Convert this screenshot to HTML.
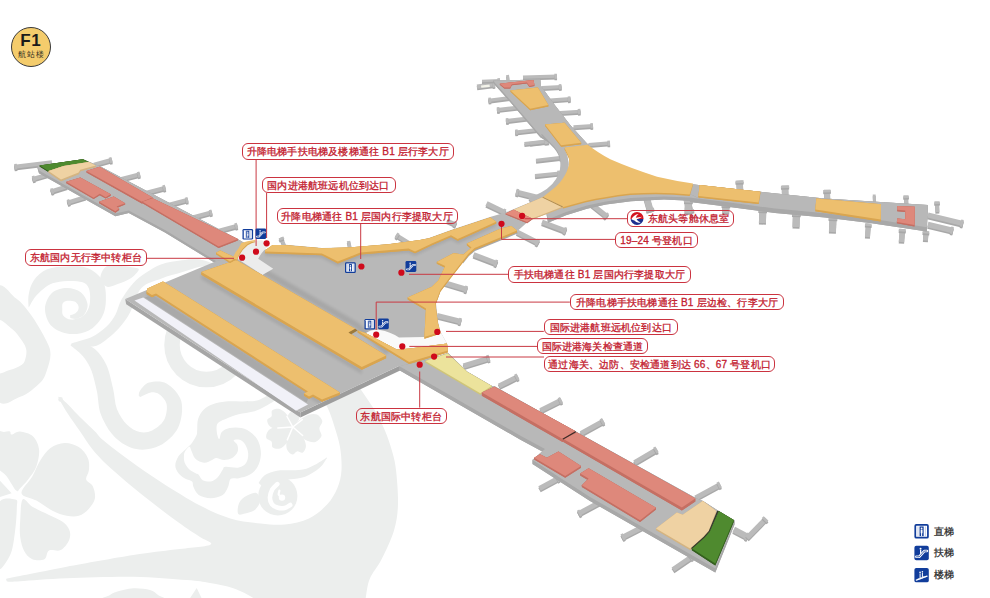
<!DOCTYPE html>
<html lang="zh">
<head>
<meta charset="utf-8">
<title>F1 航站楼</title>
<style>
html,body{margin:0;padding:0;background:#fff;}
body{width:990px;height:598px;overflow:hidden;font-family:"Liberation Sans",sans-serif;}
#map{position:relative;width:990px;height:598px;overflow:hidden;background:#fff;}
#art{position:absolute;left:0;top:0;display:block;}
.lb{position:absolute;box-sizing:border-box;border:1.2px solid #cb3340;border-radius:6px;background:transparent;color:#c3202f;-webkit-text-stroke:0.3px #c3202f;
 font-family:"Liberation Sans",sans-serif;font-size:10px;line-height:15.4px;white-space:nowrap;text-align:center;letter-spacing:0.2px;padding:0;}
.lb span{display:block;}
.lg{position:absolute;left:934px;color:#2b2b2b;-webkit-text-stroke:0.25px #2b2b2b;letter-spacing:0.2px;font-family:"Liberation Sans",sans-serif;font-size:10px;line-height:14px;white-space:nowrap;}
#badge{position:absolute;left:11.4px;top:26.9px;width:40px;height:40px;box-sizing:border-box;border:1px solid #3a3a3a;border-radius:50%;background:#f4cc6c;text-align:center;color:#1a1a1a;}
#badge b{position:absolute;left:-0.7px;width:38px;top:4.1px;font-size:17px;line-height:17px;font-weight:bold;letter-spacing:0.5px;}
#badge i{position:absolute;left:0;width:38px;top:22.3px;font-style:normal;font-size:7.6px;line-height:10px;letter-spacing:1.2px;color:#3a3424;text-indent:1px;}

</style>
</head>
<body>
<div id="map">
<svg id="art" width="990" height="598" viewBox="0 0 990 598">
<g id='bg'>
<path d="M58.6,396.7 C59.5,396.9 62.8,399.4 66.0,402.5 C69.2,405.6 73.2,410.2 78.0,415.0 C82.8,419.8 90.8,427.3 95.0,431.5 C99.2,435.7 97.3,435.2 103.0,440.0 C108.7,444.8 119.5,453.1 129.3,460.2 C139.1,467.3 149.8,474.8 161.6,482.4 C173.4,489.9 188.6,499.5 200.0,505.5 C211.4,511.5 220.2,515.4 230.3,518.4 C240.4,521.4 251.5,522.5 260.6,523.5 C269.7,524.5 276.7,525.4 284.8,524.5 C292.9,523.6 301.9,521.8 309.0,518.4 C316.1,515.0 322.6,509.4 327.3,504.3 C332.0,499.2 335.0,493.7 337.4,488.0 C339.8,482.3 341.1,476.8 341.5,470.0 C341.9,463.2 341.2,454.2 340.0,447.0 C338.8,439.8 336.6,433.4 334.5,426.8 C332.4,420.2 330.6,413.7 327.5,407.6 C324.4,401.5 320.6,396.3 316.0,390.0 C311.4,383.7 297.7,376.3 300.0,370.0 C302.3,363.7 321.7,351.7 330.0,352.0 C338.3,352.3 344.9,365.8 350.0,372.0 C355.1,378.2 356.6,383.0 360.8,389.4 C365.0,395.8 371.0,403.7 375.0,410.6 C379.0,417.5 382.2,424.1 385.0,430.8 C387.8,437.5 390.2,444.5 392.0,451.0 C393.8,457.5 395.0,461.2 396.0,470.0 C397.0,478.8 398.3,493.9 398.0,504.0 C397.7,514.1 396.7,521.4 394.0,530.5 C391.3,539.6 385.9,550.7 381.8,558.8 C377.8,566.9 372.4,572.5 369.7,579.0 C367.0,585.5 366.6,593.5 365.7,598.0 C364.8,602.5 364.3,599.0 364.0,606.0 C363.7,613.0 382.0,634.3 364.0,640.0 C346.0,645.7 274.0,646.0 256.0,640.0 C238.0,634.0 256.4,611.0 256.0,604.0 C255.6,597.0 257.1,600.6 253.3,598.0 C249.5,595.4 240.5,590.8 233.3,588.3 C226.1,585.8 217.8,584.4 210.0,583.0 C202.2,581.6 199.5,581.0 186.7,580.0 C173.9,579.0 153.3,577.0 133.3,576.7 C113.3,576.4 85.6,577.5 66.7,578.3 C47.8,579.0 29.7,580.6 20.0,581.2 C10.3,581.8 10.6,581.9 8.3,581.7 C6.1,581.5 6.5,580.6 6.5,580.0 C6.5,579.4 4.4,579.3 8.3,578.3 C12.2,577.3 20.3,575.9 30.0,574.0 C39.7,572.1 49.5,569.9 66.7,566.7 C83.9,563.5 115.3,557.9 133.3,555.0 C151.4,552.1 162.2,551.2 175.0,549.5 C187.8,547.8 206.1,546.8 210.3,544.7 C214.5,542.6 204.8,540.3 200.0,537.0 C195.2,533.7 190.2,530.9 181.8,524.8 C173.4,518.7 161.0,509.7 149.5,500.6 C138.0,491.5 122.4,478.7 113.0,470.3 C103.6,461.9 98.5,456.6 93.0,450.0 C87.5,443.4 84.0,437.0 79.8,431.0 C75.6,425.0 71.2,418.9 68.0,414.0 C64.8,409.1 62.1,404.4 60.5,401.5 C58.9,398.6 57.7,396.5 58.6,396.7 Z" fill="#eceeed"/>
<circle cx="60.6" cy="399.4" r="2.3" fill="#eceeed"/>
<path d="M104.0,600.0 C95.3,599.2 107.9,596.4 110.0,595.0 C112.1,593.6 112.8,592.8 116.7,591.7 C120.6,590.6 127.8,588.6 133.3,588.3 C138.9,588.0 145.9,588.9 150.0,590.0 C154.1,591.1 156.0,593.3 158.0,595.0 C160.0,596.7 171.0,599.2 162.0,600.0 C153.0,600.8 112.7,600.8 104.0,600.0 Z" fill="#eceeed"/>
<polygon points="189.5,599.0 196.7,588.0 202.0,599.0" fill="#eceeed"/>
<path d="M21.5,493.2 C20.8,489.2 29.1,481.9 32.3,476.4 C35.4,470.9 37.4,464.9 40.4,460.2 C43.4,455.5 46.5,451.0 50.5,448.1 C54.5,445.2 59.9,443.2 64.6,443.0 C69.3,442.8 74.9,444.6 78.8,447.1 C82.7,449.6 86.2,454.3 87.9,458.2 C89.6,462.1 89.2,466.7 88.9,470.3 C88.6,473.9 85.5,476.9 86.2,479.6 C86.9,482.3 91.5,483.3 92.9,486.5 C94.4,489.7 95.6,494.9 94.9,498.6 C94.2,502.3 91.6,505.8 88.9,508.7 C86.2,511.6 82.5,514.6 78.8,515.8 C75.1,517.0 71.1,516.6 66.7,515.8 C62.3,514.9 57.5,513.2 52.5,510.7 C47.5,508.2 41.6,503.5 36.4,500.6 C31.2,497.7 22.2,497.2 21.5,493.2 Z" fill="#eceeed"/>
<path d="M22.6,499.6 C20.6,502.0 20.6,514.6 20.2,520.8 C19.8,527.0 19.5,532.0 20.2,537.0 C20.9,542.0 22.2,547.4 24.2,551.1 C26.2,554.8 28.9,557.9 32.3,559.2 C35.7,560.6 41.6,560.6 44.4,559.2 C47.2,557.8 46.3,552.1 49.0,550.6 C51.7,549.1 57.3,551.7 60.6,550.1 C63.9,548.5 67.2,544.2 68.7,541.0 C70.2,537.8 70.7,534.1 69.7,530.9 C68.7,527.7 66.1,524.5 62.6,521.8 C59.1,519.1 53.5,517.2 48.5,514.7 C43.5,512.2 36.6,509.2 32.3,506.7 C28.0,504.2 24.6,497.2 22.6,499.6 Z" fill="#eceeed"/>
<path d="M16.2,490.6 C14.0,488.6 9.8,480.5 6.6,476.2 C3.4,471.9 -1.4,472.0 -3.0,465.0 C-4.6,458.0 -4.2,439.5 -3.0,434.0 C-1.8,428.5 1.9,432.4 4.0,432.0 C6.2,431.6 8.6,431.1 9.9,431.5 C11.2,431.9 9.9,434.6 11.6,434.6 C13.3,434.6 16.3,431.2 19.9,431.5 C23.5,431.8 29.9,433.4 33.1,436.4 C36.3,439.4 38.6,444.7 39.1,449.7 C39.6,454.7 38.2,461.2 36.4,466.2 C34.6,471.2 30.9,475.8 28.1,479.5 C25.4,483.2 21.9,486.5 19.9,488.4 C17.9,490.2 18.4,492.6 16.2,490.6 Z" fill="#eceeed"/>
<polygon points="-2.0,478.5 11.6,493.2 -2.0,497.8" fill="#eceeed"/>
<path d="M15.2,499.4 C11.9,499.1 0.0,495.2 -3.0,506.5 C-6.0,517.8 -5.2,558.8 -3.0,567.0 C-0.9,575.2 6.9,561.4 9.9,555.6 C12.9,549.9 13.8,540.4 14.9,532.5 C16.1,524.6 16.8,513.5 16.8,508.0 C16.9,502.5 18.5,499.6 15.2,499.4 Z" fill="#eceeed"/>
<path d="M-4.0,291.5 C-0.6,275.4 10.1,294.4 16.2,298.6 C22.2,302.8 27.2,309.7 32.3,316.8 C37.3,323.9 43.5,334.8 46.5,341.0 C49.5,347.2 50.4,349.4 50.5,354.2 C50.6,359.0 48.7,365.3 47.0,370.0 C45.3,374.7 44.9,378.1 40.4,382.5 C35.9,386.9 27.6,394.6 20.2,396.7 C12.8,398.8 0.0,412.5 -4.0,395.0 C-8.0,377.5 -7.4,307.6 -4.0,291.5 Z" fill="#eceeed"/>
<path d="M-4.0,322.0 C-1.3,315.2 7.7,325.7 12.1,328.9 C16.5,332.1 19.8,337.5 22.2,341.0 C24.6,344.5 25.8,346.8 26.3,350.0 C26.8,353.2 25.9,357.4 25.0,360.0 C24.1,362.6 23.8,363.6 21.0,365.3 C18.2,367.0 12.3,369.7 8.1,370.4 C3.9,371.1 -2.0,377.7 -4.0,369.6 C-6.0,361.5 -6.7,328.8 -4.0,322.0 Z" fill="#ffffff"/>
<path d="M28.9,307.2 C29.9,305.6 32.5,300.3 34.9,297.2 C37.3,294.2 40.3,291.2 43.3,288.9 C46.2,286.6 48.5,284.7 52.5,283.3 C56.5,282.0 62.4,281.1 67.4,281.0 C72.4,280.8 79.0,281.1 82.6,282.3 C86.1,283.5 87.5,285.4 88.8,288.3 C90.0,291.1 90.3,295.9 90.1,299.4 C90.0,303.0 89.5,306.5 88.0,309.5 C86.6,312.4 84.5,315.4 81.6,317.1 C78.8,318.8 74.0,319.9 70.9,319.6 C67.9,319.4 64.7,317.2 63.2,315.4 C61.8,313.6 62.3,310.7 62.3,308.7 C62.2,306.7 62.0,304.6 62.8,303.3 C63.7,302.0 65.6,301.0 67.5,300.8 C69.5,300.5 72.8,300.8 74.6,301.6 C76.4,302.5 77.9,304.4 78.4,305.9 C79.0,307.4 78.5,309.1 77.9,310.4 C77.2,311.7 75.8,312.9 74.5,313.7 C73.2,314.5 70.8,314.9 70.1,315.2 L70.3,317.9 C71.3,318.0 74.1,319.3 76.4,318.8 C78.7,318.2 82.3,317.0 84.2,314.5 C86.0,312.1 88.1,307.7 87.5,303.9 C87.0,300.2 84.3,294.9 80.8,292.2 C77.4,289.6 71.6,287.9 66.8,288.0 C62.0,288.1 55.6,289.5 51.9,293.0 C48.3,296.4 45.0,303.2 45.0,308.7 C44.9,314.2 47.5,321.9 51.6,326.1 C55.6,330.3 63.2,333.2 69.4,333.9 C75.6,334.6 83.4,333.2 88.8,330.4 C94.3,327.5 99.2,322.0 102.0,316.9 C104.9,311.8 105.8,305.9 105.9,299.9 C106.1,293.9 105.8,286.2 102.8,280.9 C99.8,275.6 93.9,270.6 87.9,268.2 C81.9,265.8 73.7,266.3 67.0,266.5 C60.2,266.7 52.7,267.0 47.2,269.3 C41.7,271.6 36.9,276.0 33.9,280.2 C30.8,284.5 29.5,290.1 28.7,294.5 C27.8,299.0 28.6,305.0 28.6,307.1 Z" fill="#eceeed"/>
<path d="M100.3,278.6 C100.2,275.2 102.8,268.6 106.3,266.5 C109.8,264.4 116.4,265.7 121.4,265.9 C126.4,266.2 133.6,267.2 136.4,268.0 C139.3,268.8 139.3,269.0 138.3,270.7 C137.2,272.5 133.7,276.4 130.4,278.6 C127.1,280.8 122.3,282.5 118.4,283.8 C114.5,285.2 110.1,287.6 107.1,286.7 C104.1,285.8 100.4,281.9 100.3,278.6 Z" fill="#eceeed"/>
<path d="M214.0,265.0 C214.0,263.8 205.4,260.3 200.0,259.5 C194.6,258.7 188.2,259.4 181.8,260.2 C175.4,261.0 167.7,262.1 161.6,264.2 C155.5,266.3 150.2,269.9 145.5,273.0 C140.8,276.1 137.4,278.7 133.4,283.1 C129.4,287.6 124.4,294.4 121.4,299.7 C118.4,305.0 117.9,310.2 115.4,314.7 C112.9,319.2 110.3,323.0 106.3,326.8 C102.3,330.6 97.2,334.4 91.3,337.3 C85.4,340.2 70.4,342.8 70.9,344.3 C71.4,345.8 87.9,347.5 94.3,346.3 C100.7,345.1 104.8,340.8 109.3,337.3 C113.8,333.8 117.9,329.6 121.4,325.3 C124.9,321.0 127.1,317.9 130.4,311.7 C133.7,305.5 136.2,293.6 141.4,288.0 C146.6,282.4 154.9,281.0 161.6,278.4 C168.3,275.8 175.4,274.2 181.8,272.3 C188.2,270.4 194.6,268.0 200.0,266.8 C205.4,265.6 214.0,266.2 214.0,265.0 Z" fill="#eceeed"/>
<path d="M70.6,345.5 C71.8,346.5 75.7,349.4 78.1,351.6 C80.5,353.8 82.6,355.5 84.9,358.8 C87.1,362.0 89.6,365.6 91.6,371.1 C93.6,376.6 95.4,384.5 97.0,391.8 C98.5,399.2 98.1,407.5 101.1,415.1 C104.1,422.7 109.0,431.6 114.9,437.2 C120.7,442.9 128.8,447.7 136.3,449.1 C143.8,450.5 152.8,449.2 159.8,445.6 C166.8,442.0 174.5,435.0 178.1,427.7 C181.7,420.3 183.2,408.7 181.3,401.3 C179.4,394.0 171.9,386.7 166.5,383.5 C161.2,380.4 153.5,381.4 149.1,382.6 C144.6,383.8 141.8,388.5 140.0,390.7 C138.3,393.0 139.0,395.1 138.8,395.9 L140.4,397.1 C141.0,396.8 142.2,396.0 144.0,395.3 C145.7,394.5 148.4,392.5 150.9,392.4 C153.5,392.3 156.8,392.4 159.5,394.5 C162.1,396.5 166.0,400.4 166.7,404.7 C167.4,409.0 166.3,416.1 163.9,420.3 C161.5,424.6 156.2,428.5 152.2,430.4 C148.2,432.3 143.9,432.9 139.7,431.9 C135.5,431.0 130.9,428.6 127.1,424.8 C123.3,420.9 119.3,415.0 116.9,408.9 C114.6,402.8 114.8,395.5 113.0,388.2 C111.3,380.8 109.4,371.4 106.4,364.9 C103.4,358.4 99.2,352.8 95.1,349.2 C91.1,345.7 86.0,344.2 81.9,343.4 C77.9,342.6 72.7,344.3 70.8,344.5 Z" fill="#eceeed"/>
<circle cx="206.5" cy="345.0" r="34.5" fill="none" stroke="#eceeed" stroke-width="15.5"/>
<path d="M270.0,395.0 C266.8,395.2 261.6,399.4 257.0,400.5 C252.4,401.6 247.5,401.2 242.3,401.4 C237.1,401.5 230.6,400.9 225.7,401.4 C220.8,401.9 216.5,402.8 212.8,404.2 C209.1,405.6 206.1,407.2 203.6,409.7 C201.1,412.1 199.2,415.5 198.1,418.9 C197.0,422.3 197.4,427.3 197.2,430.0 C196.9,432.7 197.4,432.9 196.6,435.0 C195.8,437.1 193.4,440.8 192.1,442.7 C190.8,444.6 189.6,445.4 188.5,446.5 C187.4,447.6 187.1,447.8 185.4,449.4 C183.8,451.0 180.3,453.4 178.6,456.1 C176.9,458.8 175.3,462.6 175.3,465.5 C175.3,468.4 177.0,471.3 178.7,473.5 C180.4,475.7 183.2,477.5 185.4,478.8 C187.6,480.1 190.8,480.2 192.1,481.5 C193.4,482.8 192.3,484.6 193.4,486.8 C194.5,489.0 195.8,493.0 198.7,494.9 C201.6,496.8 206.8,498.2 210.8,498.2 C214.8,498.2 219.9,496.8 222.8,494.9 C225.7,493.0 226.8,489.5 228.1,486.8 C229.4,484.1 229.0,480.2 230.8,478.8 C232.6,477.4 235.7,478.9 238.8,478.2 C241.9,477.5 246.4,476.7 249.5,474.8 C252.6,472.9 255.7,470.1 257.6,466.8 C259.5,463.5 260.7,458.8 260.9,454.8 C261.1,450.8 260.3,446.3 258.9,442.7 C257.4,439.1 255.1,435.8 252.2,433.4 C249.3,430.9 245.3,428.9 241.5,428.0 C237.7,427.1 232.8,427.3 229.5,428.0 C226.2,428.7 223.5,430.2 221.8,432.0 C220.1,433.8 220.1,438.8 219.3,439.0 C218.5,439.2 217.4,435.7 217.0,433.4 C216.6,431.1 216.3,427.3 216.8,425.3 C217.3,423.3 218.5,422.6 220.0,421.5 C221.5,420.4 222.6,420.1 225.7,418.9 C228.8,417.7 234.0,415.5 238.6,414.3 C243.2,413.1 248.8,413.0 253.3,411.6 C257.8,410.2 262.0,408.1 265.8,406.0 C269.6,403.9 275.3,400.8 276.0,399.0 C276.7,397.2 273.2,394.8 270.0,395.0 Z" fill="#eceeed"/>
<path d="M189.5,446.8 C190.4,446.9 190.4,448.7 191.4,450.7 C192.4,452.7 193.3,456.8 195.4,458.8 C197.5,460.8 201.3,462.6 204.1,462.8 C206.9,463.0 210.1,460.9 212.1,460.1 C214.1,459.3 214.1,458.1 216.1,458.1 C218.1,458.1 221.4,460.1 224.1,460.1 C226.8,460.1 230.0,459.4 232.2,458.1 C234.4,456.8 236.6,454.2 237.5,452.1 C238.4,450.0 238.1,447.4 237.5,445.4 C236.9,443.4 233.4,441.2 233.7,440.3 C234.0,439.4 237.6,439.2 239.5,439.8 C241.4,440.4 243.5,441.8 244.9,444.1 C246.3,446.4 248.0,450.3 248.2,453.4 C248.4,456.5 247.8,460.4 246.2,462.8 C244.6,465.2 242.2,466.8 238.8,467.5 C235.4,468.2 228.2,466.5 225.5,466.8 C222.8,467.1 224.1,467.7 222.8,469.5 C221.5,471.3 219.5,475.5 217.5,477.5 C215.5,479.5 213.3,481.1 210.8,481.5 C208.3,481.9 204.7,481.3 202.7,480.2 C200.7,479.1 199.8,475.9 198.7,474.8 C197.6,473.7 197.6,474.4 196.1,473.5 C194.6,472.6 191.3,471.3 189.4,469.5 C187.5,467.7 185.6,465.2 184.7,462.8 C183.8,460.4 183.8,456.9 184.0,454.8 C184.2,452.7 184.9,451.6 185.8,450.3 C186.7,449.0 188.6,446.7 189.5,446.8 Z" fill="#ffffff"/>
<path d="M292.4,426.8 C291.5,428.4 287.5,428.6 284.9,429.0 C282.3,429.4 279.1,429.6 276.6,429.2 C274.1,428.7 271.4,427.8 269.8,426.3 C268.2,424.7 266.9,421.7 267.2,420.0 C267.5,418.3 270.8,417.8 271.6,416.2 C272.4,414.6 270.9,411.6 272.1,410.4 C273.3,409.2 276.5,408.5 278.7,408.8 C280.8,409.2 283.2,410.8 285.0,412.6 C286.9,414.4 288.6,417.1 289.8,419.4 C291.0,421.8 293.2,425.2 292.4,426.8 Z" fill="#eceeed"/>
<path d="M292.4,427.3 C293.4,428.9 291.6,432.8 290.6,435.5 C289.6,438.2 288.1,441.4 286.3,443.5 C284.6,445.6 282.3,447.7 280.1,448.4 C277.8,449.1 274.2,448.7 272.8,447.5 C271.3,446.4 272.6,443.0 271.5,441.4 C270.4,439.8 266.8,439.6 266.3,437.9 C265.7,436.1 266.7,432.7 268.2,430.8 C269.7,429.0 272.4,427.6 275.1,426.8 C277.7,426.0 281.2,425.8 284.0,425.9 C286.9,426.0 291.3,425.7 292.4,427.3 Z" fill="#eceeed"/>
<path d="M292.9,427.5 C294.6,427.2 297.2,430.4 299.0,432.4 C300.9,434.3 302.9,436.9 304.1,439.3 C305.2,441.6 306.1,444.5 305.9,446.7 C305.6,449.0 304.1,451.9 302.6,452.7 C301.1,453.5 298.8,451.1 297.1,451.4 C295.4,451.7 294.0,454.7 292.4,454.5 C290.7,454.3 288.3,452.0 287.3,450.0 C286.3,448.0 286.2,445.0 286.4,442.4 C286.7,439.7 287.7,436.7 288.8,434.2 C289.9,431.7 291.2,427.8 292.9,427.5 Z" fill="#eceeed"/>
<path d="M293.3,427.0 C293.5,424.5 297.5,421.9 300.1,419.8 C302.6,417.8 305.8,415.6 308.6,414.7 C311.4,413.9 314.6,413.5 316.9,414.5 C319.1,415.5 321.9,418.7 322.3,421.0 C322.7,423.3 319.6,425.9 319.4,428.4 C319.3,430.9 322.2,433.8 321.5,436.1 C320.8,438.3 317.8,441.2 315.4,442.0 C313.0,442.7 309.9,442.0 307.2,440.8 C304.5,439.7 301.6,437.2 299.3,434.9 C297.0,432.6 293.2,429.5 293.3,427.0 Z" fill="#eceeed"/>
<path d="M292.8,426.7 C291.8,426.6 290.8,424.6 290.0,423.2 C289.3,421.9 288.5,420.3 288.2,418.9 C287.9,417.4 287.8,415.8 288.3,414.7 C288.7,413.5 290.1,412.1 291.0,411.9 C292.0,411.8 293.0,413.4 294.0,413.5 C295.0,413.6 296.3,412.1 297.2,412.5 C298.1,412.8 299.1,414.4 299.4,415.6 C299.7,416.9 299.3,418.4 298.8,419.8 C298.2,421.2 297.2,422.6 296.2,423.8 C295.2,424.9 293.8,426.8 292.8,426.7 Z" fill="#eceeed"/>
<line x1="292.8" y1="427" x2="277.8" y2="428.0" stroke="#ffffff" stroke-width="1.5" stroke-linecap="round"/>
<line x1="292.8" y1="427" x2="287.3" y2="439.9" stroke="#ffffff" stroke-width="1.5" stroke-linecap="round"/>
<line x1="292.8" y1="427" x2="302.6" y2="435.5" stroke="#ffffff" stroke-width="1.5" stroke-linecap="round"/>
<line x1="292.8" y1="427" x2="302.3" y2="419.6" stroke="#ffffff" stroke-width="1.5" stroke-linecap="round"/>
<line x1="292.8" y1="427" x2="287.0" y2="416.5" stroke="#ffffff" stroke-width="1.5" stroke-linecap="round"/>
<circle cx="277.8" cy="495.9" r="19.6" fill="#eceeed"/>
<path d="M326.7,457.6 C325.0,458.6 320.6,461.9 316.6,463.9 C312.6,465.9 307.4,468.5 302.9,469.6 C298.4,470.6 293.9,470.1 289.6,470.3 C285.3,470.5 281.2,470.0 277.0,470.8 C272.9,471.6 267.8,473.3 264.7,475.3 C261.7,477.4 259.6,481.8 258.6,483.1 L265.4,488.9 C266.2,488.0 268.0,485.2 270.3,483.7 C272.5,482.2 275.6,480.7 279.0,480.0 C282.3,479.3 286.0,479.8 290.4,479.3 C294.7,478.8 300.3,478.7 305.1,476.8 C310.0,475.0 315.7,471.2 319.4,468.1 C323.1,464.9 325.8,459.7 327.1,458.0 Z" fill="#eceeed"/>
<path d="M277.3,484.1 C276.4,485.0 273.4,487.5 272.1,489.7 C270.9,492.0 270.0,495.2 269.9,497.6 C269.9,500.1 270.7,502.7 272.0,504.4 C273.3,506.1 275.8,507.2 277.9,507.8 C280.0,508.4 282.6,508.4 284.6,507.9 C286.7,507.5 289.3,505.5 290.2,505.0" fill="none" stroke="#ffffff" stroke-width="4.6" stroke-linecap="round"/>
<circle cx="282.0" cy="497.6" r="3.2" fill="#ffffff"/>
<path d="M282.0,497.6 C281.5,497.2 279.2,495.9 278.8,494.7 C278.3,493.6 279.3,491.4 279.4,490.7" fill="none" stroke="#ffffff" stroke-width="2.2" stroke-linecap="round"/>
<path d="M238.6,514.3 C237.4,513.3 237.5,509.9 237.9,507.6 C238.3,505.3 239.1,502.4 240.8,500.3 C242.5,498.2 245.6,496.3 248.2,495.1 C250.8,493.9 254.4,492.3 256.3,492.9 C258.2,493.5 259.1,496.6 259.6,498.5 C260.1,500.4 260.1,502.0 259.2,504.0 C258.3,506.0 256.3,509.0 254.0,510.6 C251.7,512.2 247.8,512.9 245.2,513.5 C242.6,514.1 239.8,515.3 238.6,514.3 Z" fill="#eceeed"/>
</g>

<line x1="14.5" y1="168.4" x2="52.0" y2="163.9" stroke="#a8a8a8" stroke-width="4.0" stroke-linecap="butt"/>
<line x1="14.5" y1="166.8" x2="52.0" y2="162.3" stroke="#bbbbbb" stroke-width="4.0" stroke-linecap="butt"/>
<line x1="17.1" y1="168.1" x2="14.5" y2="168.4" stroke="#a8a8a8" stroke-width="5.7" stroke-linecap="butt"/>
<line x1="17.1" y1="166.5" x2="14.5" y2="166.8" stroke="#bbbbbb" stroke-width="5.7" stroke-linecap="butt"/>
<line x1="94.0" y1="166.2" x2="112.0" y2="161.4" stroke="#a8a8a8" stroke-width="4.0" stroke-linecap="butt"/>
<line x1="94.0" y1="164.6" x2="112.0" y2="159.8" stroke="#bbbbbb" stroke-width="4.0" stroke-linecap="butt"/>
<line x1="109.5" y1="162.1" x2="112.0" y2="161.4" stroke="#a8a8a8" stroke-width="5.7" stroke-linecap="butt"/>
<line x1="109.5" y1="160.5" x2="112.0" y2="159.8" stroke="#bbbbbb" stroke-width="5.7" stroke-linecap="butt"/>
<line x1="121.5" y1="180.6" x2="140.0" y2="175.8" stroke="#a8a8a8" stroke-width="4.0" stroke-linecap="butt"/>
<line x1="121.5" y1="179.0" x2="140.0" y2="174.2" stroke="#bbbbbb" stroke-width="4.0" stroke-linecap="butt"/>
<line x1="137.5" y1="176.5" x2="140.0" y2="175.8" stroke="#a8a8a8" stroke-width="5.7" stroke-linecap="butt"/>
<line x1="137.5" y1="174.9" x2="140.0" y2="174.2" stroke="#bbbbbb" stroke-width="5.7" stroke-linecap="butt"/>
<line x1="146.5" y1="194.4" x2="165.5" y2="189.2" stroke="#a8a8a8" stroke-width="4.0" stroke-linecap="butt"/>
<line x1="146.5" y1="192.8" x2="165.5" y2="187.6" stroke="#bbbbbb" stroke-width="4.0" stroke-linecap="butt"/>
<line x1="163.0" y1="189.9" x2="165.5" y2="189.2" stroke="#a8a8a8" stroke-width="5.7" stroke-linecap="butt"/>
<line x1="163.0" y1="188.3" x2="165.5" y2="187.6" stroke="#bbbbbb" stroke-width="5.7" stroke-linecap="butt"/>
<line x1="169.0" y1="206.2" x2="188.0" y2="201.4" stroke="#a8a8a8" stroke-width="4.0" stroke-linecap="butt"/>
<line x1="169.0" y1="204.6" x2="188.0" y2="199.8" stroke="#bbbbbb" stroke-width="4.0" stroke-linecap="butt"/>
<line x1="185.5" y1="202.0" x2="188.0" y2="201.4" stroke="#a8a8a8" stroke-width="5.7" stroke-linecap="butt"/>
<line x1="185.5" y1="200.4" x2="188.0" y2="199.8" stroke="#bbbbbb" stroke-width="5.7" stroke-linecap="butt"/>
<line x1="192.5" y1="219.0" x2="212.0" y2="213.8" stroke="#a8a8a8" stroke-width="4.0" stroke-linecap="butt"/>
<line x1="192.5" y1="217.4" x2="212.0" y2="212.2" stroke="#bbbbbb" stroke-width="4.0" stroke-linecap="butt"/>
<line x1="209.5" y1="214.5" x2="212.0" y2="213.8" stroke="#a8a8a8" stroke-width="5.7" stroke-linecap="butt"/>
<line x1="209.5" y1="212.9" x2="212.0" y2="212.2" stroke="#bbbbbb" stroke-width="5.7" stroke-linecap="butt"/>
<line x1="219.0" y1="232.4" x2="237.5" y2="227.2" stroke="#a8a8a8" stroke-width="4.0" stroke-linecap="butt"/>
<line x1="219.0" y1="230.8" x2="237.5" y2="225.6" stroke="#bbbbbb" stroke-width="4.0" stroke-linecap="butt"/>
<line x1="235.0" y1="227.9" x2="237.5" y2="227.2" stroke="#a8a8a8" stroke-width="5.7" stroke-linecap="butt"/>
<line x1="235.0" y1="226.3" x2="237.5" y2="225.6" stroke="#bbbbbb" stroke-width="5.7" stroke-linecap="butt"/>
<line x1="32.5" y1="180.6" x2="48.0" y2="176.2" stroke="#a8a8a8" stroke-width="4.0" stroke-linecap="butt"/>
<line x1="32.5" y1="179.0" x2="48.0" y2="174.6" stroke="#bbbbbb" stroke-width="4.0" stroke-linecap="butt"/>
<line x1="35.0" y1="179.9" x2="32.5" y2="180.6" stroke="#a8a8a8" stroke-width="5.7" stroke-linecap="butt"/>
<line x1="35.0" y1="178.3" x2="32.5" y2="179.0" stroke="#bbbbbb" stroke-width="5.7" stroke-linecap="butt"/>
<line x1="51.0" y1="193.0" x2="67.0" y2="188.0" stroke="#a8a8a8" stroke-width="4.0" stroke-linecap="butt"/>
<line x1="51.0" y1="191.4" x2="67.0" y2="186.4" stroke="#bbbbbb" stroke-width="4.0" stroke-linecap="butt"/>
<line x1="53.5" y1="192.2" x2="51.0" y2="193.0" stroke="#a8a8a8" stroke-width="5.7" stroke-linecap="butt"/>
<line x1="53.5" y1="190.6" x2="51.0" y2="191.4" stroke="#bbbbbb" stroke-width="5.7" stroke-linecap="butt"/>
<line x1="67.5" y1="204.2" x2="85.5" y2="198.6" stroke="#a8a8a8" stroke-width="4.0" stroke-linecap="butt"/>
<line x1="67.5" y1="202.6" x2="85.5" y2="197.0" stroke="#bbbbbb" stroke-width="4.0" stroke-linecap="butt"/>
<line x1="70.0" y1="203.4" x2="67.5" y2="204.2" stroke="#a8a8a8" stroke-width="5.7" stroke-linecap="butt"/>
<line x1="70.0" y1="201.8" x2="67.5" y2="202.6" stroke="#bbbbbb" stroke-width="5.7" stroke-linecap="butt"/>
<line x1="281.0" y1="239.1" x2="284.5" y2="247.6" stroke="#a8a8a8" stroke-width="3.5" stroke-linecap="butt"/>
<line x1="281.0" y1="237.5" x2="284.5" y2="246.0" stroke="#bbbbbb" stroke-width="3.5" stroke-linecap="butt"/>
<line x1="282.0" y1="241.5" x2="281.0" y2="239.1" stroke="#a8a8a8" stroke-width="5.2" stroke-linecap="butt"/>
<line x1="282.0" y1="239.9" x2="281.0" y2="237.5" stroke="#bbbbbb" stroke-width="5.2" stroke-linecap="butt"/>
<line x1="348.5" y1="242.6" x2="350.0" y2="249.6" stroke="#a8a8a8" stroke-width="3.5" stroke-linecap="butt"/>
<line x1="348.5" y1="241.0" x2="350.0" y2="248.0" stroke="#bbbbbb" stroke-width="3.5" stroke-linecap="butt"/>
<line x1="396.0" y1="236.6" x2="409.0" y2="244.6" stroke="#a8a8a8" stroke-width="4.0" stroke-linecap="butt"/>
<line x1="396.0" y1="235.0" x2="409.0" y2="243.0" stroke="#bbbbbb" stroke-width="4.0" stroke-linecap="butt"/>
<line x1="398.2" y1="238.0" x2="396.0" y2="236.6" stroke="#a8a8a8" stroke-width="5.7" stroke-linecap="butt"/>
<line x1="398.2" y1="236.4" x2="396.0" y2="235.0" stroke="#bbbbbb" stroke-width="5.7" stroke-linecap="butt"/>
<line x1="447.0" y1="222.1" x2="456.0" y2="226.1" stroke="#a8a8a8" stroke-width="4.0" stroke-linecap="butt"/>
<line x1="447.0" y1="220.5" x2="456.0" y2="224.5" stroke="#bbbbbb" stroke-width="4.0" stroke-linecap="butt"/>
<line x1="453.6" y1="225.0" x2="456.0" y2="226.1" stroke="#a8a8a8" stroke-width="5.7" stroke-linecap="butt"/>
<line x1="453.6" y1="223.4" x2="456.0" y2="224.5" stroke="#bbbbbb" stroke-width="5.7" stroke-linecap="butt"/>
<line x1="486.5" y1="205.2" x2="505.0" y2="214.1" stroke="#a8a8a8" stroke-width="5.0" stroke-linecap="butt"/>
<line x1="486.5" y1="203.6" x2="505.0" y2="212.5" stroke="#bbbbbb" stroke-width="5.0" stroke-linecap="butt"/>
<line x1="502.7" y1="213.0" x2="505.0" y2="214.1" stroke="#a8a8a8" stroke-width="6.7" stroke-linecap="butt"/>
<line x1="502.7" y1="211.4" x2="505.0" y2="212.5" stroke="#bbbbbb" stroke-width="6.7" stroke-linecap="butt"/>
<line x1="516.0" y1="193.6" x2="544.0" y2="200.6" stroke="#a8a8a8" stroke-width="5.0" stroke-linecap="butt"/>
<line x1="516.0" y1="192.0" x2="544.0" y2="199.0" stroke="#bbbbbb" stroke-width="5.0" stroke-linecap="butt"/>
<line x1="518.5" y1="194.2" x2="516.0" y2="193.6" stroke="#a8a8a8" stroke-width="6.7" stroke-linecap="butt"/>
<line x1="518.5" y1="192.6" x2="516.0" y2="192.0" stroke="#bbbbbb" stroke-width="6.7" stroke-linecap="butt"/>
<line x1="517.0" y1="233.6" x2="538.5" y2="244.6" stroke="#a8a8a8" stroke-width="5.0" stroke-linecap="butt"/>
<line x1="517.0" y1="232.0" x2="538.5" y2="243.0" stroke="#bbbbbb" stroke-width="5.0" stroke-linecap="butt"/>
<line x1="536.2" y1="243.4" x2="538.5" y2="244.6" stroke="#a8a8a8" stroke-width="6.7" stroke-linecap="butt"/>
<line x1="536.2" y1="241.8" x2="538.5" y2="243.0" stroke="#bbbbbb" stroke-width="6.7" stroke-linecap="butt"/>
<line x1="473.5" y1="256.1" x2="497.0" y2="265.1" stroke="#a8a8a8" stroke-width="5.0" stroke-linecap="butt"/>
<line x1="473.5" y1="254.5" x2="497.0" y2="263.5" stroke="#bbbbbb" stroke-width="5.0" stroke-linecap="butt"/>
<line x1="494.6" y1="264.2" x2="497.0" y2="265.1" stroke="#a8a8a8" stroke-width="6.7" stroke-linecap="butt"/>
<line x1="494.6" y1="262.6" x2="497.0" y2="263.5" stroke="#bbbbbb" stroke-width="6.7" stroke-linecap="butt"/>
<line x1="542.0" y1="223.6" x2="566.0" y2="232.6" stroke="#a8a8a8" stroke-width="5.0" stroke-linecap="butt"/>
<line x1="542.0" y1="222.0" x2="566.0" y2="231.0" stroke="#bbbbbb" stroke-width="5.0" stroke-linecap="butt"/>
<line x1="563.6" y1="231.7" x2="566.0" y2="232.6" stroke="#a8a8a8" stroke-width="6.7" stroke-linecap="butt"/>
<line x1="563.6" y1="230.1" x2="566.0" y2="231.0" stroke="#bbbbbb" stroke-width="6.7" stroke-linecap="butt"/>
<line x1="437.0" y1="317.1" x2="461.0" y2="323.1" stroke="#a8a8a8" stroke-width="5.0" stroke-linecap="butt"/>
<line x1="437.0" y1="315.5" x2="461.0" y2="321.5" stroke="#bbbbbb" stroke-width="5.0" stroke-linecap="butt"/>
<line x1="458.5" y1="322.5" x2="461.0" y2="323.1" stroke="#a8a8a8" stroke-width="6.7" stroke-linecap="butt"/>
<line x1="458.5" y1="320.9" x2="461.0" y2="321.5" stroke="#bbbbbb" stroke-width="6.7" stroke-linecap="butt"/>
<line x1="442.0" y1="283.6" x2="467.0" y2="291.1" stroke="#a8a8a8" stroke-width="5.0" stroke-linecap="butt"/>
<line x1="442.0" y1="282.0" x2="467.0" y2="289.5" stroke="#bbbbbb" stroke-width="5.0" stroke-linecap="butt"/>
<line x1="464.5" y1="290.4" x2="467.0" y2="291.1" stroke="#a8a8a8" stroke-width="6.7" stroke-linecap="butt"/>
<line x1="464.5" y1="288.8" x2="467.0" y2="289.5" stroke="#bbbbbb" stroke-width="6.7" stroke-linecap="butt"/>
<line x1="477.0" y1="88.2" x2="495.0" y2="85.8" stroke="#a8a8a8" stroke-width="4.2" stroke-linecap="butt"/>
<line x1="477.0" y1="86.6" x2="495.0" y2="84.2" stroke="#bbbbbb" stroke-width="4.2" stroke-linecap="butt"/>
<line x1="492.4" y1="86.1" x2="495.0" y2="85.8" stroke="#a8a8a8" stroke-width="5.9" stroke-linecap="butt"/>
<line x1="492.4" y1="84.5" x2="495.0" y2="84.2" stroke="#bbbbbb" stroke-width="5.9" stroke-linecap="butt"/>
<line x1="488.5" y1="102.0" x2="512.0" y2="99.0" stroke="#a8a8a8" stroke-width="3.4" stroke-linecap="butt"/>
<line x1="488.5" y1="100.4" x2="512.0" y2="97.4" stroke="#bbbbbb" stroke-width="3.4" stroke-linecap="butt"/>
<line x1="491.1" y1="101.7" x2="488.5" y2="102.0" stroke="#a8a8a8" stroke-width="5.1" stroke-linecap="butt"/>
<line x1="491.1" y1="100.1" x2="488.5" y2="100.4" stroke="#bbbbbb" stroke-width="5.1" stroke-linecap="butt"/>
<line x1="497.0" y1="111.4" x2="521.0" y2="108.6" stroke="#a8a8a8" stroke-width="3.4" stroke-linecap="butt"/>
<line x1="497.0" y1="109.8" x2="521.0" y2="107.0" stroke="#bbbbbb" stroke-width="3.4" stroke-linecap="butt"/>
<line x1="499.6" y1="111.1" x2="497.0" y2="111.4" stroke="#a8a8a8" stroke-width="5.1" stroke-linecap="butt"/>
<line x1="499.6" y1="109.5" x2="497.0" y2="109.8" stroke="#bbbbbb" stroke-width="5.1" stroke-linecap="butt"/>
<line x1="506.0" y1="122.4" x2="530.0" y2="119.6" stroke="#a8a8a8" stroke-width="3.4" stroke-linecap="butt"/>
<line x1="506.0" y1="120.8" x2="530.0" y2="118.0" stroke="#bbbbbb" stroke-width="3.4" stroke-linecap="butt"/>
<line x1="508.6" y1="122.1" x2="506.0" y2="122.4" stroke="#a8a8a8" stroke-width="5.1" stroke-linecap="butt"/>
<line x1="508.6" y1="120.5" x2="506.0" y2="120.8" stroke="#bbbbbb" stroke-width="5.1" stroke-linecap="butt"/>
<line x1="515.2" y1="133.8" x2="540.0" y2="131.0" stroke="#a8a8a8" stroke-width="3.4" stroke-linecap="butt"/>
<line x1="515.2" y1="132.2" x2="540.0" y2="129.4" stroke="#bbbbbb" stroke-width="3.4" stroke-linecap="butt"/>
<line x1="517.8" y1="133.5" x2="515.2" y2="133.8" stroke="#a8a8a8" stroke-width="5.1" stroke-linecap="butt"/>
<line x1="517.8" y1="131.9" x2="515.2" y2="132.2" stroke="#bbbbbb" stroke-width="5.1" stroke-linecap="butt"/>
<line x1="524.4" y1="145.4" x2="549.0" y2="142.6" stroke="#a8a8a8" stroke-width="3.4" stroke-linecap="butt"/>
<line x1="524.4" y1="143.8" x2="549.0" y2="141.0" stroke="#bbbbbb" stroke-width="3.4" stroke-linecap="butt"/>
<line x1="546.4" y1="142.9" x2="549.0" y2="142.6" stroke="#a8a8a8" stroke-width="5.1" stroke-linecap="butt"/>
<line x1="546.4" y1="141.3" x2="549.0" y2="141.0" stroke="#bbbbbb" stroke-width="5.1" stroke-linecap="butt"/>
<line x1="536.0" y1="162.0" x2="562.0" y2="159.0" stroke="#a8a8a8" stroke-width="3.4" stroke-linecap="butt"/>
<line x1="536.0" y1="160.4" x2="562.0" y2="157.4" stroke="#bbbbbb" stroke-width="3.4" stroke-linecap="butt"/>
<line x1="559.4" y1="159.3" x2="562.0" y2="159.0" stroke="#a8a8a8" stroke-width="5.1" stroke-linecap="butt"/>
<line x1="559.4" y1="157.7" x2="562.0" y2="157.4" stroke="#bbbbbb" stroke-width="5.1" stroke-linecap="butt"/>
<line x1="535.0" y1="177.4" x2="560.0" y2="174.8" stroke="#a8a8a8" stroke-width="3.6" stroke-linecap="butt"/>
<line x1="535.0" y1="175.8" x2="560.0" y2="173.2" stroke="#bbbbbb" stroke-width="3.6" stroke-linecap="butt"/>
<line x1="557.4" y1="175.1" x2="560.0" y2="174.8" stroke="#a8a8a8" stroke-width="5.3" stroke-linecap="butt"/>
<line x1="557.4" y1="173.5" x2="560.0" y2="173.2" stroke="#bbbbbb" stroke-width="5.3" stroke-linecap="butt"/>
<line x1="530.0" y1="145.0" x2="547.0" y2="143.0" stroke="#a8a8a8" stroke-width="3.4" stroke-linecap="butt"/>
<line x1="530.0" y1="143.4" x2="547.0" y2="141.4" stroke="#bbbbbb" stroke-width="3.4" stroke-linecap="butt"/>
<line x1="544.4" y1="143.3" x2="547.0" y2="143.0" stroke="#a8a8a8" stroke-width="5.1" stroke-linecap="butt"/>
<line x1="544.4" y1="141.7" x2="547.0" y2="141.4" stroke="#bbbbbb" stroke-width="5.1" stroke-linecap="butt"/>
<line x1="523.0" y1="78.8" x2="557.0" y2="77.8" stroke="#a8a8a8" stroke-width="3.2" stroke-linecap="butt"/>
<line x1="523.0" y1="77.2" x2="557.0" y2="76.2" stroke="#bbbbbb" stroke-width="3.2" stroke-linecap="butt"/>
<line x1="554.4" y1="77.9" x2="557.0" y2="77.8" stroke="#a8a8a8" stroke-width="4.9" stroke-linecap="butt"/>
<line x1="554.4" y1="76.3" x2="557.0" y2="76.2" stroke="#bbbbbb" stroke-width="4.9" stroke-linecap="butt"/>
<line x1="542.0" y1="89.4" x2="561.5" y2="88.2" stroke="#a8a8a8" stroke-width="3.4" stroke-linecap="butt"/>
<line x1="542.0" y1="87.8" x2="561.5" y2="86.6" stroke="#bbbbbb" stroke-width="3.4" stroke-linecap="butt"/>
<line x1="558.9" y1="88.4" x2="561.5" y2="88.2" stroke="#a8a8a8" stroke-width="5.1" stroke-linecap="butt"/>
<line x1="558.9" y1="86.8" x2="561.5" y2="86.6" stroke="#bbbbbb" stroke-width="5.1" stroke-linecap="butt"/>
<line x1="550.0" y1="101.8" x2="570.5" y2="100.4" stroke="#a8a8a8" stroke-width="3.4" stroke-linecap="butt"/>
<line x1="550.0" y1="100.2" x2="570.5" y2="98.8" stroke="#bbbbbb" stroke-width="3.4" stroke-linecap="butt"/>
<line x1="567.9" y1="100.6" x2="570.5" y2="100.4" stroke="#a8a8a8" stroke-width="5.1" stroke-linecap="butt"/>
<line x1="567.9" y1="99.0" x2="570.5" y2="98.8" stroke="#bbbbbb" stroke-width="5.1" stroke-linecap="butt"/>
<line x1="560.0" y1="114.4" x2="580.5" y2="113.0" stroke="#a8a8a8" stroke-width="3.4" stroke-linecap="butt"/>
<line x1="560.0" y1="112.8" x2="580.5" y2="111.4" stroke="#bbbbbb" stroke-width="3.4" stroke-linecap="butt"/>
<line x1="577.9" y1="113.2" x2="580.5" y2="113.0" stroke="#a8a8a8" stroke-width="5.1" stroke-linecap="butt"/>
<line x1="577.9" y1="111.6" x2="580.5" y2="111.4" stroke="#bbbbbb" stroke-width="5.1" stroke-linecap="butt"/>
<line x1="573.5" y1="128.6" x2="593.0" y2="127.2" stroke="#a8a8a8" stroke-width="3.4" stroke-linecap="butt"/>
<line x1="573.5" y1="127.0" x2="593.0" y2="125.6" stroke="#bbbbbb" stroke-width="3.4" stroke-linecap="butt"/>
<line x1="590.4" y1="127.4" x2="593.0" y2="127.2" stroke="#a8a8a8" stroke-width="5.1" stroke-linecap="butt"/>
<line x1="590.4" y1="125.8" x2="593.0" y2="125.6" stroke="#bbbbbb" stroke-width="5.1" stroke-linecap="butt"/>
<line x1="588.5" y1="146.2" x2="610.0" y2="144.6" stroke="#a8a8a8" stroke-width="3.4" stroke-linecap="butt"/>
<line x1="588.5" y1="144.6" x2="610.0" y2="143.0" stroke="#bbbbbb" stroke-width="3.4" stroke-linecap="butt"/>
<line x1="607.4" y1="144.8" x2="610.0" y2="144.6" stroke="#a8a8a8" stroke-width="5.1" stroke-linecap="butt"/>
<line x1="607.4" y1="143.2" x2="610.0" y2="143.0" stroke="#bbbbbb" stroke-width="5.1" stroke-linecap="butt"/>
<line x1="482.0" y1="82.6" x2="500.0" y2="81.8" stroke="#a8a8a8" stroke-width="2.6" stroke-linecap="butt"/>
<line x1="482.0" y1="81.0" x2="500.0" y2="80.2" stroke="#bbbbbb" stroke-width="2.6" stroke-linecap="butt"/>
<line x1="497.4" y1="81.9" x2="500.0" y2="81.8" stroke="#a8a8a8" stroke-width="4.3" stroke-linecap="butt"/>
<line x1="497.4" y1="80.3" x2="500.0" y2="80.2" stroke="#bbbbbb" stroke-width="4.3" stroke-linecap="butt"/>
<line x1="507.5" y1="76.6" x2="508.2" y2="82.6" stroke="#a8a8a8" stroke-width="3.0" stroke-linecap="butt"/>
<line x1="507.5" y1="75.0" x2="508.2" y2="81.0" stroke="#bbbbbb" stroke-width="3.0" stroke-linecap="butt"/>
<line x1="590.0" y1="204.6" x2="607.0" y2="218.1" stroke="#a8a8a8" stroke-width="5.0" stroke-linecap="butt"/>
<line x1="590.0" y1="203.0" x2="607.0" y2="216.5" stroke="#bbbbbb" stroke-width="5.0" stroke-linecap="butt"/>
<line x1="605.0" y1="216.5" x2="607.0" y2="218.1" stroke="#a8a8a8" stroke-width="6.7" stroke-linecap="butt"/>
<line x1="605.0" y1="214.9" x2="607.0" y2="216.5" stroke="#bbbbbb" stroke-width="6.7" stroke-linecap="butt"/>
<line x1="646.5" y1="198.6" x2="650.5" y2="212.6" stroke="#a8a8a8" stroke-width="6.5" stroke-linecap="butt"/>
<line x1="646.5" y1="197.0" x2="650.5" y2="211.0" stroke="#bbbbbb" stroke-width="6.5" stroke-linecap="butt"/>
<line x1="649.8" y1="210.1" x2="650.5" y2="212.6" stroke="#a8a8a8" stroke-width="8.2" stroke-linecap="butt"/>
<line x1="649.8" y1="208.5" x2="650.5" y2="211.0" stroke="#bbbbbb" stroke-width="8.2" stroke-linecap="butt"/>
<line x1="686.5" y1="198.6" x2="690.5" y2="214.1" stroke="#a8a8a8" stroke-width="6.5" stroke-linecap="butt"/>
<line x1="686.5" y1="197.0" x2="690.5" y2="212.5" stroke="#bbbbbb" stroke-width="6.5" stroke-linecap="butt"/>
<line x1="689.9" y1="211.6" x2="690.5" y2="214.1" stroke="#a8a8a8" stroke-width="8.2" stroke-linecap="butt"/>
<line x1="689.9" y1="210.0" x2="690.5" y2="212.5" stroke="#bbbbbb" stroke-width="8.2" stroke-linecap="butt"/>
<line x1="739.5" y1="182.1" x2="740.0" y2="191.6" stroke="#a8a8a8" stroke-width="6.5" stroke-linecap="butt"/>
<line x1="739.5" y1="180.5" x2="740.0" y2="190.0" stroke="#bbbbbb" stroke-width="6.5" stroke-linecap="butt"/>
<line x1="739.6" y1="184.7" x2="739.5" y2="182.1" stroke="#a8a8a8" stroke-width="8.2" stroke-linecap="butt"/>
<line x1="739.6" y1="183.1" x2="739.5" y2="180.5" stroke="#bbbbbb" stroke-width="8.2" stroke-linecap="butt"/>
<line x1="785.0" y1="187.1" x2="785.2" y2="196.6" stroke="#a8a8a8" stroke-width="6.5" stroke-linecap="butt"/>
<line x1="785.0" y1="185.5" x2="785.2" y2="195.0" stroke="#bbbbbb" stroke-width="6.5" stroke-linecap="butt"/>
<line x1="785.1" y1="189.7" x2="785.0" y2="187.1" stroke="#a8a8a8" stroke-width="8.2" stroke-linecap="butt"/>
<line x1="785.1" y1="188.1" x2="785.0" y2="185.5" stroke="#bbbbbb" stroke-width="8.2" stroke-linecap="butt"/>
<line x1="827.0" y1="191.4" x2="827.2" y2="200.6" stroke="#a8a8a8" stroke-width="6.0" stroke-linecap="butt"/>
<line x1="827.0" y1="189.8" x2="827.2" y2="199.0" stroke="#bbbbbb" stroke-width="6.0" stroke-linecap="butt"/>
<line x1="827.1" y1="194.0" x2="827.0" y2="191.4" stroke="#a8a8a8" stroke-width="7.7" stroke-linecap="butt"/>
<line x1="827.1" y1="192.4" x2="827.0" y2="189.8" stroke="#bbbbbb" stroke-width="7.7" stroke-linecap="butt"/>
<line x1="874.2" y1="196.1" x2="874.6" y2="204.6" stroke="#a8a8a8" stroke-width="3.0" stroke-linecap="butt"/>
<line x1="874.2" y1="194.5" x2="874.6" y2="203.0" stroke="#bbbbbb" stroke-width="3.0" stroke-linecap="butt"/>
<line x1="906.0" y1="197.1" x2="906.4" y2="206.6" stroke="#a8a8a8" stroke-width="4.0" stroke-linecap="butt"/>
<line x1="906.0" y1="195.5" x2="906.4" y2="205.0" stroke="#bbbbbb" stroke-width="4.0" stroke-linecap="butt"/>
<line x1="906.1" y1="199.7" x2="906.0" y2="197.1" stroke="#a8a8a8" stroke-width="5.7" stroke-linecap="butt"/>
<line x1="906.1" y1="198.1" x2="906.0" y2="195.5" stroke="#bbbbbb" stroke-width="5.7" stroke-linecap="butt"/>
<line x1="937.0" y1="203.1" x2="937.4" y2="213.6" stroke="#a8a8a8" stroke-width="4.0" stroke-linecap="butt"/>
<line x1="937.0" y1="201.5" x2="937.4" y2="212.0" stroke="#bbbbbb" stroke-width="4.0" stroke-linecap="butt"/>
<line x1="937.1" y1="205.7" x2="937.0" y2="203.1" stroke="#a8a8a8" stroke-width="5.7" stroke-linecap="butt"/>
<line x1="937.1" y1="204.1" x2="937.0" y2="201.5" stroke="#bbbbbb" stroke-width="5.7" stroke-linecap="butt"/>
<line x1="688.5" y1="201.6" x2="688.0" y2="214.6" stroke="#a8a8a8" stroke-width="7.0" stroke-linecap="butt"/>
<line x1="688.5" y1="200.0" x2="688.0" y2="213.0" stroke="#bbbbbb" stroke-width="7.0" stroke-linecap="butt"/>
<line x1="688.4" y1="204.2" x2="688.5" y2="201.6" stroke="#a8a8a8" stroke-width="8.7" stroke-linecap="butt"/>
<line x1="688.4" y1="202.6" x2="688.5" y2="200.0" stroke="#bbbbbb" stroke-width="8.7" stroke-linecap="butt"/>
<line x1="726.0" y1="205.6" x2="725.6" y2="214.6" stroke="#a8a8a8" stroke-width="7.0" stroke-linecap="butt"/>
<line x1="726.0" y1="204.0" x2="725.6" y2="213.0" stroke="#bbbbbb" stroke-width="7.0" stroke-linecap="butt"/>
<line x1="725.9" y1="208.2" x2="726.0" y2="205.6" stroke="#a8a8a8" stroke-width="8.7" stroke-linecap="butt"/>
<line x1="725.9" y1="206.6" x2="726.0" y2="204.0" stroke="#bbbbbb" stroke-width="8.7" stroke-linecap="butt"/>
<line x1="762.8" y1="210.6" x2="762.4" y2="224.6" stroke="#a8a8a8" stroke-width="7.0" stroke-linecap="butt"/>
<line x1="762.8" y1="209.0" x2="762.4" y2="223.0" stroke="#bbbbbb" stroke-width="7.0" stroke-linecap="butt"/>
<line x1="762.7" y1="213.2" x2="762.8" y2="210.6" stroke="#a8a8a8" stroke-width="8.7" stroke-linecap="butt"/>
<line x1="762.7" y1="211.6" x2="762.8" y2="209.0" stroke="#bbbbbb" stroke-width="8.7" stroke-linecap="butt"/>
<line x1="796.4" y1="214.6" x2="796.0" y2="228.6" stroke="#a8a8a8" stroke-width="7.0" stroke-linecap="butt"/>
<line x1="796.4" y1="213.0" x2="796.0" y2="227.0" stroke="#bbbbbb" stroke-width="7.0" stroke-linecap="butt"/>
<line x1="796.3" y1="217.2" x2="796.4" y2="214.6" stroke="#a8a8a8" stroke-width="8.7" stroke-linecap="butt"/>
<line x1="796.3" y1="215.6" x2="796.4" y2="213.0" stroke="#bbbbbb" stroke-width="8.7" stroke-linecap="butt"/>
<line x1="833.0" y1="218.6" x2="832.4" y2="233.6" stroke="#a8a8a8" stroke-width="7.0" stroke-linecap="butt"/>
<line x1="833.0" y1="217.0" x2="832.4" y2="232.0" stroke="#bbbbbb" stroke-width="7.0" stroke-linecap="butt"/>
<line x1="832.9" y1="221.2" x2="833.0" y2="218.6" stroke="#a8a8a8" stroke-width="8.7" stroke-linecap="butt"/>
<line x1="832.9" y1="219.6" x2="833.0" y2="217.0" stroke="#bbbbbb" stroke-width="8.7" stroke-linecap="butt"/>
<line x1="868.4" y1="225.1" x2="867.4" y2="238.6" stroke="#a8a8a8" stroke-width="5.0" stroke-linecap="butt"/>
<line x1="868.4" y1="223.5" x2="867.4" y2="237.0" stroke="#bbbbbb" stroke-width="5.0" stroke-linecap="butt"/>
<line x1="868.2" y1="227.7" x2="868.4" y2="225.1" stroke="#a8a8a8" stroke-width="6.7" stroke-linecap="butt"/>
<line x1="868.2" y1="226.1" x2="868.4" y2="223.5" stroke="#bbbbbb" stroke-width="6.7" stroke-linecap="butt"/>
<line x1="902.4" y1="230.6" x2="901.4" y2="243.6" stroke="#a8a8a8" stroke-width="5.4" stroke-linecap="butt"/>
<line x1="902.4" y1="229.0" x2="901.4" y2="242.0" stroke="#bbbbbb" stroke-width="5.4" stroke-linecap="butt"/>
<line x1="902.2" y1="233.2" x2="902.4" y2="230.6" stroke="#a8a8a8" stroke-width="7.1" stroke-linecap="butt"/>
<line x1="902.2" y1="231.6" x2="902.4" y2="229.0" stroke="#bbbbbb" stroke-width="7.1" stroke-linecap="butt"/>
<line x1="926.0" y1="232.6" x2="925.4" y2="242.1" stroke="#a8a8a8" stroke-width="5.0" stroke-linecap="butt"/>
<line x1="926.0" y1="231.0" x2="925.4" y2="240.5" stroke="#bbbbbb" stroke-width="5.0" stroke-linecap="butt"/>
<line x1="925.8" y1="235.2" x2="926.0" y2="232.6" stroke="#a8a8a8" stroke-width="6.7" stroke-linecap="butt"/>
<line x1="925.8" y1="233.6" x2="926.0" y2="231.0" stroke="#bbbbbb" stroke-width="6.7" stroke-linecap="butt"/>
<line x1="927.8" y1="216.6" x2="963.0" y2="225.1" stroke="#a8a8a8" stroke-width="5.4" stroke-linecap="butt"/>
<line x1="927.8" y1="215.0" x2="963.0" y2="223.5" stroke="#bbbbbb" stroke-width="5.4" stroke-linecap="butt"/>
<line x1="960.5" y1="224.5" x2="963.0" y2="225.1" stroke="#a8a8a8" stroke-width="7.1" stroke-linecap="butt"/>
<line x1="960.5" y1="222.9" x2="963.0" y2="223.5" stroke="#bbbbbb" stroke-width="7.1" stroke-linecap="butt"/>
<line x1="927.8" y1="226.1" x2="953.0" y2="232.1" stroke="#a8a8a8" stroke-width="5.4" stroke-linecap="butt"/>
<line x1="927.8" y1="224.5" x2="953.0" y2="230.5" stroke="#bbbbbb" stroke-width="5.4" stroke-linecap="butt"/>
<line x1="950.5" y1="231.5" x2="953.0" y2="232.1" stroke="#a8a8a8" stroke-width="7.1" stroke-linecap="butt"/>
<line x1="950.5" y1="229.9" x2="953.0" y2="230.5" stroke="#bbbbbb" stroke-width="7.1" stroke-linecap="butt"/>
<line x1="463.5" y1="367.6" x2="489.5" y2="359.6" stroke="#a8a8a8" stroke-width="5.0" stroke-linecap="butt"/>
<line x1="463.5" y1="366.0" x2="489.5" y2="358.0" stroke="#bbbbbb" stroke-width="5.0" stroke-linecap="butt"/>
<line x1="487.0" y1="360.4" x2="489.5" y2="359.6" stroke="#a8a8a8" stroke-width="6.7" stroke-linecap="butt"/>
<line x1="487.0" y1="358.8" x2="489.5" y2="358.0" stroke="#bbbbbb" stroke-width="6.7" stroke-linecap="butt"/>
<line x1="499.0" y1="387.6" x2="518.0" y2="378.1" stroke="#a8a8a8" stroke-width="5.0" stroke-linecap="butt"/>
<line x1="499.0" y1="386.0" x2="518.0" y2="376.5" stroke="#bbbbbb" stroke-width="5.0" stroke-linecap="butt"/>
<line x1="515.7" y1="379.3" x2="518.0" y2="378.1" stroke="#a8a8a8" stroke-width="6.7" stroke-linecap="butt"/>
<line x1="515.7" y1="377.7" x2="518.0" y2="376.5" stroke="#bbbbbb" stroke-width="6.7" stroke-linecap="butt"/>
<line x1="540.5" y1="412.1" x2="561.5" y2="401.6" stroke="#a8a8a8" stroke-width="5.0" stroke-linecap="butt"/>
<line x1="540.5" y1="410.5" x2="561.5" y2="400.0" stroke="#bbbbbb" stroke-width="5.0" stroke-linecap="butt"/>
<line x1="559.2" y1="402.8" x2="561.5" y2="401.6" stroke="#a8a8a8" stroke-width="6.7" stroke-linecap="butt"/>
<line x1="559.2" y1="401.2" x2="561.5" y2="400.0" stroke="#bbbbbb" stroke-width="6.7" stroke-linecap="butt"/>
<line x1="581.0" y1="435.0" x2="603.6" y2="422.6" stroke="#a8a8a8" stroke-width="5.0" stroke-linecap="butt"/>
<line x1="581.0" y1="433.4" x2="603.6" y2="421.0" stroke="#bbbbbb" stroke-width="5.0" stroke-linecap="butt"/>
<line x1="601.3" y1="423.9" x2="603.6" y2="422.6" stroke="#a8a8a8" stroke-width="6.7" stroke-linecap="butt"/>
<line x1="601.3" y1="422.3" x2="603.6" y2="421.0" stroke="#bbbbbb" stroke-width="6.7" stroke-linecap="butt"/>
<line x1="634.5" y1="464.3" x2="657.0" y2="451.0" stroke="#a8a8a8" stroke-width="5.0" stroke-linecap="butt"/>
<line x1="634.5" y1="462.7" x2="657.0" y2="449.4" stroke="#bbbbbb" stroke-width="5.0" stroke-linecap="butt"/>
<line x1="654.8" y1="452.3" x2="657.0" y2="451.0" stroke="#a8a8a8" stroke-width="6.7" stroke-linecap="butt"/>
<line x1="654.8" y1="450.7" x2="657.0" y2="449.4" stroke="#bbbbbb" stroke-width="6.7" stroke-linecap="butt"/>
<line x1="695.5" y1="499.6" x2="720.3" y2="486.1" stroke="#a8a8a8" stroke-width="5.0" stroke-linecap="butt"/>
<line x1="695.5" y1="498.0" x2="720.3" y2="484.5" stroke="#bbbbbb" stroke-width="5.0" stroke-linecap="butt"/>
<line x1="718.0" y1="487.3" x2="720.3" y2="486.1" stroke="#a8a8a8" stroke-width="6.7" stroke-linecap="butt"/>
<line x1="718.0" y1="485.7" x2="720.3" y2="484.5" stroke="#bbbbbb" stroke-width="6.7" stroke-linecap="butt"/>
<line x1="539.5" y1="490.1" x2="559.0" y2="479.6" stroke="#a8a8a8" stroke-width="5.0" stroke-linecap="butt"/>
<line x1="539.5" y1="488.5" x2="559.0" y2="478.0" stroke="#bbbbbb" stroke-width="5.0" stroke-linecap="butt"/>
<line x1="556.7" y1="480.8" x2="559.0" y2="479.6" stroke="#a8a8a8" stroke-width="6.7" stroke-linecap="butt"/>
<line x1="556.7" y1="479.2" x2="559.0" y2="478.0" stroke="#bbbbbb" stroke-width="6.7" stroke-linecap="butt"/>
<line x1="622.0" y1="539.1" x2="643.5" y2="528.1" stroke="#a8a8a8" stroke-width="5.0" stroke-linecap="butt"/>
<line x1="622.0" y1="537.5" x2="643.5" y2="526.5" stroke="#bbbbbb" stroke-width="5.0" stroke-linecap="butt"/>
<line x1="624.3" y1="537.9" x2="622.0" y2="539.1" stroke="#a8a8a8" stroke-width="6.7" stroke-linecap="butt"/>
<line x1="624.3" y1="536.3" x2="622.0" y2="537.5" stroke="#bbbbbb" stroke-width="6.7" stroke-linecap="butt"/>
<line x1="673.0" y1="571.1" x2="692.0" y2="558.1" stroke="#a8a8a8" stroke-width="5.0" stroke-linecap="butt"/>
<line x1="673.0" y1="569.5" x2="692.0" y2="556.5" stroke="#bbbbbb" stroke-width="5.0" stroke-linecap="butt"/>
<line x1="689.9" y1="559.6" x2="692.0" y2="558.1" stroke="#a8a8a8" stroke-width="6.7" stroke-linecap="butt"/>
<line x1="689.9" y1="558.0" x2="692.0" y2="556.5" stroke="#bbbbbb" stroke-width="6.7" stroke-linecap="butt"/>
<line x1="733.7" y1="531.1" x2="748.0" y2="538.6" stroke="#a8a8a8" stroke-width="6.0" stroke-linecap="butt"/>
<line x1="733.7" y1="529.5" x2="748.0" y2="537.0" stroke="#bbbbbb" stroke-width="6.0" stroke-linecap="butt"/>
<line x1="745.7" y1="537.4" x2="748.0" y2="538.6" stroke="#a8a8a8" stroke-width="7.7" stroke-linecap="butt"/>
<line x1="745.7" y1="535.8" x2="748.0" y2="537.0" stroke="#bbbbbb" stroke-width="7.7" stroke-linecap="butt"/>
<line x1="747.0" y1="539.6" x2="766.0" y2="520.1" stroke="#a8a8a8" stroke-width="5.0" stroke-linecap="butt"/>
<line x1="747.0" y1="538.0" x2="766.0" y2="518.5" stroke="#bbbbbb" stroke-width="5.0" stroke-linecap="butt"/>
<line x1="764.2" y1="522.0" x2="766.0" y2="520.1" stroke="#a8a8a8" stroke-width="6.7" stroke-linecap="butt"/>
<line x1="764.2" y1="520.4" x2="766.0" y2="518.5" stroke="#bbbbbb" stroke-width="6.7" stroke-linecap="butt"/>
<line x1="578.5" y1="515.2" x2="600.3" y2="503.6" stroke="#a8a8a8" stroke-width="5.0" stroke-linecap="butt"/>
<line x1="578.5" y1="513.6" x2="600.3" y2="502.0" stroke="#bbbbbb" stroke-width="5.0" stroke-linecap="butt"/>
<line x1="580.8" y1="514.0" x2="578.5" y2="515.2" stroke="#a8a8a8" stroke-width="6.7" stroke-linecap="butt"/>
<line x1="580.8" y1="512.4" x2="578.5" y2="513.6" stroke="#bbbbbb" stroke-width="6.7" stroke-linecap="butt"/>
<polygon points="37.6,166.0 83.0,159.3 96.0,164.8 100.0,166.3 238.0,239.3 246.0,244.0 236.0,258.0 216.0,261.0 165.0,230.0 128.8,210.4 115.4,213.6 39.0,170.6" fill="#a8a8a8" />
<polygon points="37.6,168.6 83.0,161.9 96.0,167.4 100.0,168.9 238.0,241.9 246.0,246.6 236.0,260.6 216.0,263.6 165.0,232.6 128.8,213.0 115.4,216.2 39.0,173.2" fill="#a8a8a8" />
<polygon points="37.6,166.0 83.0,159.3 83.0,161.9 37.6,168.6" fill="#a8a8a8" />
<polygon points="83.0,159.3 96.0,164.8 96.0,167.4 83.0,161.9" fill="#a8a8a8" />
<polygon points="96.0,164.8 100.0,166.3 100.0,168.9 96.0,167.4" fill="#a8a8a8" />
<polygon points="100.0,166.3 238.0,239.3 238.0,241.9 100.0,168.9" fill="#a8a8a8" />
<polygon points="238.0,239.3 246.0,244.0 246.0,246.6 238.0,241.9" fill="#a8a8a8" />
<polygon points="246.0,244.0 236.0,258.0 236.0,260.6 246.0,246.6" fill="#a8a8a8" />
<polygon points="236.0,258.0 216.0,261.0 216.0,263.6 236.0,260.6" fill="#a8a8a8" />
<polygon points="216.0,261.0 165.0,230.0 165.0,232.6 216.0,263.6" fill="#a8a8a8" />
<polygon points="165.0,230.0 128.8,210.4 128.8,213.0 165.0,232.6" fill="#a8a8a8" />
<polygon points="128.8,210.4 115.4,213.6 115.4,216.2 128.8,213.0" fill="#a8a8a8" />
<polygon points="115.4,213.6 39.0,170.6 39.0,173.2 115.4,216.2" fill="#a8a8a8" />
<polygon points="39.0,170.6 37.6,166.0 37.6,168.6 39.0,173.2" fill="#a8a8a8" />
<polygon points="37.6,166.0 83.0,159.3 96.0,164.8 100.0,166.3 238.0,239.3 246.0,244.0 236.0,258.0 216.0,261.0 165.0,230.0 128.8,210.4 115.4,213.6 39.0,170.6" fill="#b8b8b8" />
<polygon points="125.2,299.0 300.4,412.4 300.4,417.6 126.2,304.2" fill="#a6a6a6" />
<polygon points="300.4,412.4 399.0,366.0 400.2,370.4 300.4,417.6" fill="#9d9d9d" />
<polygon points="517.5,231.0 475.0,248.5 469.0,253.5 463.0,261.0 463.0,263.4 469.0,256.0 475.0,251.0 517.5,233.6" fill="#a8a8a8" />
<polygon points="125.2,299.0 216.0,261.2 236.0,256.0 243.0,246.0 265.0,249.5 283.0,244.5 322.0,248.0 349.0,247.5 389.0,244.0 420.0,240.0 429.0,238.0 451.0,230.0 490.0,217.0 505.5,212.6 514.0,209.0 544.0,196.5 563.0,206.0 563.4,207.5 532.0,219.0 527.0,222.5 517.5,231.0 475.0,248.5 469.0,253.5 451.0,277.0 441.0,290.0 436.0,303.5 438.2,322.7 440.5,332.0 447.0,343.6 448.0,351.2 425.5,361.0 399.0,366.0 300.4,412.4" fill="#b8b8b8" />
<defs><filter id="bl" x="-0.2" y="-0.2" width="1.4" height="1.4"><feGaussianBlur stdDeviation="1.6"/></filter><clipPath id="hallclip"><polygon points="125.2,299.0 216.0,261.2 236.0,256.0 243.0,246.0 265.0,249.5 283.0,244.5 322.0,248.0 349.0,247.5 389.0,244.0 420.0,240.0 429.0,238.0 451.0,230.0 490.0,217.0 505.5,212.6 514.0,209.0 544.0,196.5 563.0,206.0 563.4,207.5 532.0,219.0 527.0,222.5 517.5,231.0 475.0,248.5 469.0,253.5 451.0,277.0 441.0,290.0 436.0,303.5 438.2,322.7 440.5,332.0 447.0,343.6 448.0,351.2 425.5,361.0 399.0,366.0 300.4,412.4"/></clipPath></defs>
<g clip-path="url(#hallclip)"><g filter="url(#bl)" fill="#000" opacity="0.09">
<polygon points="236.3,259.0 355.2,327.8 386.0,354.5 390.0,351.0 358.0,322.5 240.0,254.0" fill="#000" />
<polygon points="265.0,251.4 321.9,253.4 337.8,261.6 360.4,252.6 408.6,248.6 415.0,251.5 431.8,243.5 451.0,235.2 457.7,239.0 496.0,222.0 496.0,226.0 458.0,243.4 451.0,239.6 432.0,247.6 415.0,255.8 408.0,252.8 361.0,256.8 337.8,266.0 321.0,257.6 265.0,255.4" fill="#000" />
<polygon points="201.4,274.0 361.8,369.0 361.8,374.0 201.4,279.0" fill="#000" />
<polygon points="147.0,291.0 322.0,401.0 322.0,405.5 147.0,295.5" fill="#000" />
</g></g>
<polygon points="399.0,366.0 425.5,360.5 448.0,353.0 467.0,371.5 492.0,386.0 495.0,386.5 577.0,432.3 696.0,498.3 703.0,501.0 717.0,510.0 734.5,520.5 715.3,568.5 590.0,497.0 532.5,460.0 545.0,449.0 520.0,435.5" fill="#a8a8a8" />
<polygon points="399.0,370.0 425.5,364.5 448.0,357.0 467.0,375.5 492.0,390.0 495.0,390.5 577.0,436.3 696.0,502.3 703.0,505.0 717.0,514.0 734.5,524.5 715.3,572.5 590.0,501.0 532.5,464.0 545.0,453.0 520.0,439.5" fill="#a8a8a8" />
<polygon points="399.0,366.0 425.5,360.5 425.5,364.5 399.0,370.0" fill="#a8a8a8" />
<polygon points="425.5,360.5 448.0,353.0 448.0,357.0 425.5,364.5" fill="#a8a8a8" />
<polygon points="448.0,353.0 467.0,371.5 467.0,375.5 448.0,357.0" fill="#a8a8a8" />
<polygon points="467.0,371.5 492.0,386.0 492.0,390.0 467.0,375.5" fill="#a8a8a8" />
<polygon points="492.0,386.0 495.0,386.5 495.0,390.5 492.0,390.0" fill="#a8a8a8" />
<polygon points="495.0,386.5 577.0,432.3 577.0,436.3 495.0,390.5" fill="#a8a8a8" />
<polygon points="577.0,432.3 696.0,498.3 696.0,502.3 577.0,436.3" fill="#a8a8a8" />
<polygon points="696.0,498.3 703.0,501.0 703.0,505.0 696.0,502.3" fill="#a8a8a8" />
<polygon points="703.0,501.0 717.0,510.0 717.0,514.0 703.0,505.0" fill="#a8a8a8" />
<polygon points="717.0,510.0 734.5,520.5 734.5,524.5 717.0,514.0" fill="#a8a8a8" />
<polygon points="734.5,520.5 715.3,568.5 715.3,572.5 734.5,524.5" fill="#a8a8a8" />
<polygon points="715.3,568.5 590.0,497.0 590.0,501.0 715.3,572.5" fill="#a8a8a8" />
<polygon points="590.0,497.0 532.5,460.0 532.5,464.0 590.0,501.0" fill="#a8a8a8" />
<polygon points="532.5,460.0 545.0,449.0 545.0,453.0 532.5,464.0" fill="#a8a8a8" />
<polygon points="545.0,449.0 520.0,435.5 520.0,439.5 545.0,453.0" fill="#a8a8a8" />
<polygon points="520.0,435.5 399.0,366.0 399.0,370.0 520.0,439.5" fill="#a8a8a8" />
<polygon points="399.0,366.0 425.5,360.5 448.0,353.0 467.0,371.5 492.0,386.0 495.0,386.5 577.0,432.3 696.0,498.3 703.0,501.0 717.0,510.0 734.5,520.5 715.3,568.5 590.0,497.0 532.5,460.0 545.0,449.0 520.0,435.5" fill="#b8b8b8" />
<polygon points="493.4,80.5 540.3,79.5 541.0,86.0 553.6,103.5 570.4,125.2 587.0,143.6 589.0,145.0 564.0,148.0 561.8,148.4 540.3,135.2 510.2,100.1 495.0,83.0" fill="#a8a8a8" />
<polygon points="493.4,82.5 540.3,81.5 541.0,88.0 553.6,105.5 570.4,127.2 587.0,145.6 589.0,147.0 564.0,150.0 561.8,150.4 540.3,137.2 510.2,102.1 495.0,85.0" fill="#a8a8a8" />
<polygon points="493.4,80.5 540.3,79.5 540.3,81.5 493.4,82.5" fill="#a8a8a8" />
<polygon points="540.3,79.5 541.0,86.0 541.0,88.0 540.3,81.5" fill="#a8a8a8" />
<polygon points="541.0,86.0 553.6,103.5 553.6,105.5 541.0,88.0" fill="#a8a8a8" />
<polygon points="553.6,103.5 570.4,125.2 570.4,127.2 553.6,105.5" fill="#a8a8a8" />
<polygon points="570.4,125.2 587.0,143.6 587.0,145.6 570.4,127.2" fill="#a8a8a8" />
<polygon points="587.0,143.6 589.0,145.0 589.0,147.0 587.0,145.6" fill="#a8a8a8" />
<polygon points="589.0,145.0 564.0,148.0 564.0,150.0 589.0,147.0" fill="#a8a8a8" />
<polygon points="564.0,148.0 561.8,148.4 561.8,150.4 564.0,150.0" fill="#a8a8a8" />
<polygon points="561.8,148.4 540.3,135.2 540.3,137.2 561.8,150.4" fill="#a8a8a8" />
<polygon points="540.3,135.2 510.2,100.1 510.2,102.1 540.3,137.2" fill="#a8a8a8" />
<polygon points="510.2,100.1 495.0,83.0 495.0,85.0 510.2,102.1" fill="#a8a8a8" />
<polygon points="495.0,83.0 493.4,80.5 493.4,82.5 495.0,85.0" fill="#a8a8a8" />
<polygon points="493.4,80.5 540.3,79.5 541.0,86.0 553.6,103.5 570.4,125.2 587.0,143.6 589.0,145.0 564.0,148.0 561.8,148.4 540.3,135.2 510.2,100.1 495.0,83.0" fill="#b8b8b8" />
<path d="M545,130 L564,147.5 Q572,162 566,176 Q560,190 543,197 L531,202 L528.5,198.5 L541,192.4 Q554,186 559,173 Q564,158 554,146.5 L541,133 Z" fill="#a8a8a8" transform="translate(0,1.8)"/>
<path d="M545,130 L564,147.5 Q572,162 566,176 Q560,190 543,197 L531,202 L528.5,198.5 L541,192.4 Q554,186 559,173 Q564,158 554,146.5 L541,133 Z" fill="#b8b8b8" />
<polygon points="689.7,194.4 691.7,184.3 760.3,191.8 817.0,197.7 825.0,198.4 927.8,205.1 926.8,227.2 870.0,218.6 825.0,213.2 775.0,208.6 745.0,204.6 720.0,201.3 690.0,197.6" fill="#a8a8a8" />
<polygon points="689.7,198.8 691.7,188.7 760.3,196.2 817.0,202.1 825.0,202.8 927.8,209.5 926.8,231.6 870.0,223.0 825.0,217.6 775.0,213.0 745.0,209.0 720.0,205.7 690.0,202.0" fill="#a8a8a8" />
<polygon points="689.7,194.4 691.7,184.3 691.7,188.7 689.7,198.8" fill="#a8a8a8" />
<polygon points="691.7,184.3 760.3,191.8 760.3,196.2 691.7,188.7" fill="#a8a8a8" />
<polygon points="760.3,191.8 817.0,197.7 817.0,202.1 760.3,196.2" fill="#a8a8a8" />
<polygon points="817.0,197.7 825.0,198.4 825.0,202.8 817.0,202.1" fill="#a8a8a8" />
<polygon points="825.0,198.4 927.8,205.1 927.8,209.5 825.0,202.8" fill="#a8a8a8" />
<polygon points="927.8,205.1 926.8,227.2 926.8,231.6 927.8,209.5" fill="#a8a8a8" />
<polygon points="926.8,227.2 870.0,218.6 870.0,223.0 926.8,231.6" fill="#a8a8a8" />
<polygon points="870.0,218.6 825.0,213.2 825.0,217.6 870.0,223.0" fill="#a8a8a8" />
<polygon points="825.0,213.2 775.0,208.6 775.0,213.0 825.0,217.6" fill="#a8a8a8" />
<polygon points="775.0,208.6 745.0,204.6 745.0,209.0 775.0,213.0" fill="#a8a8a8" />
<polygon points="745.0,204.6 720.0,201.3 720.0,205.7 745.0,209.0" fill="#a8a8a8" />
<polygon points="720.0,201.3 690.0,197.6 690.0,202.0 720.0,205.7" fill="#a8a8a8" />
<polygon points="690.0,197.6 689.7,194.4 689.7,198.8 690.0,202.0" fill="#a8a8a8" />
<polygon points="689.7,194.4 691.7,184.3 760.3,191.8 817.0,197.7 825.0,198.4 927.8,205.1 926.8,227.2 870.0,218.6 825.0,213.2 775.0,208.6 745.0,204.6 720.0,201.3 690.0,197.6" fill="#b8b8b8" />
<polygon points="544.0,196.5 563.4,207.0 585.2,201.0 605.3,197.0 630.3,193.5 663.8,192.0 689.7,194.4 692.0,195.0 700.0,199.0 690.0,197.6 664.0,196.4 631.0,198.0 606.0,201.4 587.0,205.6 566.0,212.0 548.0,219.5" fill="#a8a8a8" />
<polygon points="544.0,199.7 563.4,210.2 585.2,204.2 605.3,200.2 630.3,196.7 663.8,195.2 689.7,197.6 692.0,198.2 700.0,202.2 690.0,200.8 664.0,199.6 631.0,201.2 606.0,204.6 587.0,208.8 566.0,215.2 548.0,222.7" fill="#a8a8a8" />
<polygon points="544.0,196.5 563.4,207.0 563.4,210.2 544.0,199.7" fill="#a8a8a8" />
<polygon points="563.4,207.0 585.2,201.0 585.2,204.2 563.4,210.2" fill="#a8a8a8" />
<polygon points="585.2,201.0 605.3,197.0 605.3,200.2 585.2,204.2" fill="#a8a8a8" />
<polygon points="605.3,197.0 630.3,193.5 630.3,196.7 605.3,200.2" fill="#a8a8a8" />
<polygon points="630.3,193.5 663.8,192.0 663.8,195.2 630.3,196.7" fill="#a8a8a8" />
<polygon points="663.8,192.0 689.7,194.4 689.7,197.6 663.8,195.2" fill="#a8a8a8" />
<polygon points="689.7,194.4 692.0,195.0 692.0,198.2 689.7,197.6" fill="#a8a8a8" />
<polygon points="692.0,195.0 700.0,199.0 700.0,202.2 692.0,198.2" fill="#a8a8a8" />
<polygon points="700.0,199.0 690.0,197.6 690.0,200.8 700.0,202.2" fill="#a8a8a8" />
<polygon points="690.0,197.6 664.0,196.4 664.0,199.6 690.0,200.8" fill="#a8a8a8" />
<polygon points="664.0,196.4 631.0,198.0 631.0,201.2 664.0,199.6" fill="#a8a8a8" />
<polygon points="631.0,198.0 606.0,201.4 606.0,204.6 631.0,201.2" fill="#a8a8a8" />
<polygon points="606.0,201.4 587.0,205.6 587.0,208.8 606.0,204.6" fill="#a8a8a8" />
<polygon points="587.0,205.6 566.0,212.0 566.0,215.2 587.0,208.8" fill="#a8a8a8" />
<polygon points="566.0,212.0 548.0,219.5 548.0,222.7 566.0,215.2" fill="#a8a8a8" />
<polygon points="548.0,219.5 544.0,196.5 544.0,199.7 548.0,222.7" fill="#a8a8a8" />
<polygon points="544.0,196.5 563.4,207.0 585.2,201.0 605.3,197.0 630.3,193.5 663.8,192.0 689.7,194.4 692.0,195.0 700.0,199.0 690.0,197.6 664.0,196.4 631.0,198.0 606.0,201.4 587.0,205.6 566.0,212.0 548.0,219.5" fill="#b8b8b8" />
<polygon points="134.5,300.6 143.2,297.4 308.0,404.5 296.0,410.8" fill="#f1f1f8" />
<path d="M236.8,258.6 Q240,249.5 247.7,243.8 Q251.5,241.3 255.5,240.6 L262,240.2 L270.5,245.4 Q265.5,247.8 264.1,250.2 Q260.5,254 258.2,258.8 L273.2,268.8 L262.3,274.9 Z" fill="#ececec" />
<path d="M365.5,333.2 Q372,329 380,330 Q390,331.5 399,337.5 L424.4,337 L440.5,332 L447,343.6 L410.2,348.6 L396.8,349.4 Z" fill="#fafafa" />
<polygon points="201.4,272.0 236.3,260.0 355.2,328.8 348.5,332.4 386.1,355.5 361.8,367.0" fill="#d9a550" />
<polygon points="201.4,274.8 236.3,262.8 355.2,331.6 348.5,335.2 386.1,358.3 361.8,369.8" fill="#d9a550" />
<polygon points="201.4,272.0 236.3,260.0 236.3,262.8 201.4,274.8" fill="#d9a550" />
<polygon points="236.3,260.0 355.2,328.8 355.2,331.6 236.3,262.8" fill="#d9a550" />
<polygon points="355.2,328.8 348.5,332.4 348.5,335.2 355.2,331.6" fill="#d9a550" />
<polygon points="348.5,332.4 386.1,355.5 386.1,358.3 348.5,335.2" fill="#d9a550" />
<polygon points="386.1,355.5 361.8,367.0 361.8,369.8 386.1,358.3" fill="#d9a550" />
<polygon points="361.8,367.0 201.4,272.0 201.4,274.8 361.8,369.8" fill="#d9a550" />
<polygon points="201.4,272.0 236.3,260.0 355.2,328.8 348.5,332.4 386.1,355.5 361.8,367.0" fill="#edbf6e" />
<polygon points="348.5,332.4 355.2,328.8 357.6,330.6 351.2,334.2" fill="#9c7a3c" />
<polygon points="152.0,295.4 304.0,393.5 309.0,396.8 306.6,402.6 144.8,297.6" fill="#a9a9a9" />
<polygon points="147.4,288.6 163.0,281.4 339.8,392.5 322.0,399.5 313.0,394.6 309.0,396.6 304.0,393.5 308.0,391.4 156.0,293.4 152.0,295.0 146.6,291.8" fill="#d9a550" />
<polygon points="147.4,290.8 163.0,283.6 339.8,394.7 322.0,401.7 313.0,396.8 309.0,398.8 304.0,395.7 308.0,393.6 156.0,295.6 152.0,297.2 146.6,294.0" fill="#d9a550" />
<polygon points="147.4,288.6 163.0,281.4 163.0,283.6 147.4,290.8" fill="#d9a550" />
<polygon points="163.0,281.4 339.8,392.5 339.8,394.7 163.0,283.6" fill="#d9a550" />
<polygon points="339.8,392.5 322.0,399.5 322.0,401.7 339.8,394.7" fill="#d9a550" />
<polygon points="322.0,399.5 313.0,394.6 313.0,396.8 322.0,401.7" fill="#d9a550" />
<polygon points="313.0,394.6 309.0,396.6 309.0,398.8 313.0,396.8" fill="#d9a550" />
<polygon points="309.0,396.6 304.0,393.5 304.0,395.7 309.0,398.8" fill="#d9a550" />
<polygon points="304.0,393.5 308.0,391.4 308.0,393.6 304.0,395.7" fill="#d9a550" />
<polygon points="308.0,391.4 156.0,293.4 156.0,295.6 308.0,393.6" fill="#d9a550" />
<polygon points="156.0,293.4 152.0,295.0 152.0,297.2 156.0,295.6" fill="#d9a550" />
<polygon points="152.0,295.0 146.6,291.8 146.6,294.0 152.0,297.2" fill="#d9a550" />
<polygon points="146.6,291.8 147.4,288.6 147.4,290.8 146.6,294.0" fill="#d9a550" />
<polygon points="147.4,288.6 163.0,281.4 339.8,392.5 322.0,399.5 313.0,394.6 309.0,396.6 304.0,393.5 308.0,391.4 156.0,293.4 152.0,295.0 146.6,291.8" fill="#edbf6e" />
<polygon points="216.0,252.7 220.3,250.4 236.0,258.0 230.0,261.5" fill="#d9a550" />
<polygon points="216.0,254.3 220.3,252.0 236.0,259.6 230.0,263.1" fill="#d9a550" />
<polygon points="216.0,252.7 220.3,250.4 220.3,252.0 216.0,254.3" fill="#d9a550" />
<polygon points="220.3,250.4 236.0,258.0 236.0,259.6 220.3,252.0" fill="#d9a550" />
<polygon points="236.0,258.0 230.0,261.5 230.0,263.1 236.0,259.6" fill="#d9a550" />
<polygon points="230.0,261.5 216.0,252.7 216.0,254.3 230.0,263.1" fill="#d9a550" />
<polygon points="216.0,252.7 220.3,250.4 236.0,258.0 230.0,261.5" fill="#edbf6e" />
<path d="M232.6,258.6 Q235,252 238.6,248.2 L241.4,242.9 Q247,241.2 254.5,240.0 L255.8,240.8 Q251.5,241.5 247.7,244 Q240.2,249.6 237,259.4 Z" fill="#d9a550" transform="translate(0,1.2)"/>
<path d="M232.6,258.6 Q235,252 238.6,248.2 L241.4,242.9 Q247,241.2 254.5,240.0 L255.8,240.8 Q251.5,241.5 247.7,244 Q240.2,249.6 237,259.4 Z" fill="#edbf6e" />
<polygon points="265.0,250.4 272.6,245.0 283.4,245.0 321.9,248.2 348.6,247.4 388.8,244.2 420.0,240.0 429.3,238.3 451.0,230.4 490.3,217.4 496.2,221.8 457.7,239.0 451.0,235.2 431.8,243.5 415.0,251.5 408.6,248.6 360.4,252.6 337.8,261.6 321.9,253.4 265.0,251.4" fill="#d9a550" />
<polygon points="265.0,252.2 272.6,246.8 283.4,246.8 321.9,250.0 348.6,249.2 388.8,246.0 420.0,241.8 429.3,240.1 451.0,232.2 490.3,219.2 496.2,223.6 457.7,240.8 451.0,237.0 431.8,245.3 415.0,253.3 408.6,250.4 360.4,254.4 337.8,263.4 321.9,255.2 265.0,253.2" fill="#d9a550" />
<polygon points="265.0,250.4 272.6,245.0 272.6,246.8 265.0,252.2" fill="#d9a550" />
<polygon points="272.6,245.0 283.4,245.0 283.4,246.8 272.6,246.8" fill="#d9a550" />
<polygon points="283.4,245.0 321.9,248.2 321.9,250.0 283.4,246.8" fill="#d9a550" />
<polygon points="321.9,248.2 348.6,247.4 348.6,249.2 321.9,250.0" fill="#d9a550" />
<polygon points="348.6,247.4 388.8,244.2 388.8,246.0 348.6,249.2" fill="#d9a550" />
<polygon points="388.8,244.2 420.0,240.0 420.0,241.8 388.8,246.0" fill="#d9a550" />
<polygon points="420.0,240.0 429.3,238.3 429.3,240.1 420.0,241.8" fill="#d9a550" />
<polygon points="429.3,238.3 451.0,230.4 451.0,232.2 429.3,240.1" fill="#d9a550" />
<polygon points="451.0,230.4 490.3,217.4 490.3,219.2 451.0,232.2" fill="#d9a550" />
<polygon points="490.3,217.4 496.2,221.8 496.2,223.6 490.3,219.2" fill="#d9a550" />
<polygon points="496.2,221.8 457.7,239.0 457.7,240.8 496.2,223.6" fill="#d9a550" />
<polygon points="457.7,239.0 451.0,235.2 451.0,237.0 457.7,240.8" fill="#d9a550" />
<polygon points="451.0,235.2 431.8,243.5 431.8,245.3 451.0,237.0" fill="#d9a550" />
<polygon points="431.8,243.5 415.0,251.5 415.0,253.3 431.8,245.3" fill="#d9a550" />
<polygon points="415.0,251.5 408.6,248.6 408.6,250.4 415.0,253.3" fill="#d9a550" />
<polygon points="408.6,248.6 360.4,252.6 360.4,254.4 408.6,250.4" fill="#d9a550" />
<polygon points="360.4,252.6 337.8,261.6 337.8,263.4 360.4,254.4" fill="#d9a550" />
<polygon points="337.8,261.6 321.9,253.4 321.9,255.2 337.8,263.4" fill="#d9a550" />
<polygon points="321.9,253.4 265.0,251.4 265.0,253.2 321.9,255.2" fill="#d9a550" />
<polygon points="265.0,251.4 265.0,250.4 265.0,252.2 265.0,253.2" fill="#d9a550" />
<polygon points="265.0,250.4 272.6,245.0 283.4,245.0 321.9,248.2 348.6,247.4 388.8,244.2 420.0,240.0 429.3,238.3 451.0,230.4 490.3,217.4 496.2,221.8 457.7,239.0 451.0,235.2 431.8,243.5 415.0,251.5 408.6,248.6 360.4,252.6 337.8,261.6 321.9,253.4 265.0,251.4" fill="#edbf6e" />
<polygon points="500.3,228.8 511.2,226.0 517.0,230.5 474.6,248.0 468.6,253.5 450.2,277.0 440.3,290.0 435.3,303.5 437.8,322.7 440.3,332.0 424.4,337.0 426.0,308.5 407.7,297.6 431.9,286.7 438.5,280.3 445.2,266.0 436.8,261.9 453.5,253.2 463.5,254.4 471.5,247.5 466.9,243.5" fill="#d9a550" />
<polygon points="500.3,230.6 511.2,227.8 517.0,232.3 474.6,249.8 468.6,255.3 450.2,278.8 440.3,291.8 435.3,305.3 437.8,324.5 440.3,333.8 424.4,338.8 426.0,310.3 407.7,299.4 431.9,288.5 438.5,282.1 445.2,267.8 436.8,263.7 453.5,255.0 463.5,256.2 471.5,249.3 466.9,245.3" fill="#d9a550" />
<polygon points="500.3,228.8 511.2,226.0 511.2,227.8 500.3,230.6" fill="#d9a550" />
<polygon points="511.2,226.0 517.0,230.5 517.0,232.3 511.2,227.8" fill="#d9a550" />
<polygon points="517.0,230.5 474.6,248.0 474.6,249.8 517.0,232.3" fill="#d9a550" />
<polygon points="474.6,248.0 468.6,253.5 468.6,255.3 474.6,249.8" fill="#d9a550" />
<polygon points="468.6,253.5 450.2,277.0 450.2,278.8 468.6,255.3" fill="#d9a550" />
<polygon points="450.2,277.0 440.3,290.0 440.3,291.8 450.2,278.8" fill="#d9a550" />
<polygon points="440.3,290.0 435.3,303.5 435.3,305.3 440.3,291.8" fill="#d9a550" />
<polygon points="435.3,303.5 437.8,322.7 437.8,324.5 435.3,305.3" fill="#d9a550" />
<polygon points="437.8,322.7 440.3,332.0 440.3,333.8 437.8,324.5" fill="#d9a550" />
<polygon points="440.3,332.0 424.4,337.0 424.4,338.8 440.3,333.8" fill="#d9a550" />
<polygon points="424.4,337.0 426.0,308.5 426.0,310.3 424.4,338.8" fill="#d9a550" />
<polygon points="426.0,308.5 407.7,297.6 407.7,299.4 426.0,310.3" fill="#d9a550" />
<polygon points="407.7,297.6 431.9,286.7 431.9,288.5 407.7,299.4" fill="#d9a550" />
<polygon points="431.9,286.7 438.5,280.3 438.5,282.1 431.9,288.5" fill="#d9a550" />
<polygon points="438.5,280.3 445.2,266.0 445.2,267.8 438.5,282.1" fill="#d9a550" />
<polygon points="445.2,266.0 436.8,261.9 436.8,263.7 445.2,267.8" fill="#d9a550" />
<polygon points="436.8,261.9 453.5,253.2 453.5,255.0 436.8,263.7" fill="#d9a550" />
<polygon points="453.5,253.2 463.5,254.4 463.5,256.2 453.5,255.0" fill="#d9a550" />
<polygon points="463.5,254.4 471.5,247.5 471.5,249.3 463.5,256.2" fill="#d9a550" />
<polygon points="471.5,247.5 466.9,243.5 466.9,245.3 471.5,249.3" fill="#d9a550" />
<polygon points="466.9,243.5 500.3,228.8 500.3,230.6 466.9,245.3" fill="#d9a550" />
<polygon points="500.3,228.8 511.2,226.0 517.0,230.5 474.6,248.0 468.6,253.5 450.2,277.0 440.3,290.0 435.3,303.5 437.8,322.7 440.3,332.0 424.4,337.0 426.0,308.5 407.7,297.6 431.9,286.7 438.5,280.3 445.2,266.0 436.8,261.9 453.5,253.2 463.5,254.4 471.5,247.5 466.9,243.5" fill="#edbf6e" />
<polygon points="357.6,330.6 365.5,333.0 396.8,349.4 410.2,348.6 447.0,343.6 447.8,350.6 409.1,362.1" fill="#d9a550" />
<polygon points="357.6,332.6 365.5,335.0 396.8,351.4 410.2,350.6 447.0,345.6 447.8,352.6 409.1,364.1" fill="#d9a550" />
<polygon points="357.6,330.6 365.5,333.0 365.5,335.0 357.6,332.6" fill="#d9a550" />
<polygon points="365.5,333.0 396.8,349.4 396.8,351.4 365.5,335.0" fill="#d9a550" />
<polygon points="396.8,349.4 410.2,348.6 410.2,350.6 396.8,351.4" fill="#d9a550" />
<polygon points="410.2,348.6 447.0,343.6 447.0,345.6 410.2,350.6" fill="#d9a550" />
<polygon points="447.0,343.6 447.8,350.6 447.8,352.6 447.0,345.6" fill="#d9a550" />
<polygon points="447.8,350.6 409.1,362.1 409.1,364.1 447.8,352.6" fill="#d9a550" />
<polygon points="409.1,362.1 357.6,330.6 357.6,332.6 409.1,364.1" fill="#d9a550" />
<polygon points="357.6,330.6 365.5,333.0 396.8,349.4 410.2,348.6 447.0,343.6 447.8,350.6 409.1,362.1" fill="#edbf6e" />
<polygon points="39.6,165.4 82.8,159.2 88.6,162.0 63.5,165.9 48.5,170.9" fill="#35601f" />
<polygon points="39.6,166.6 82.8,160.4 88.6,163.2 63.5,167.1 48.5,172.1" fill="#35601f" />
<polygon points="39.6,165.4 82.8,159.2 82.8,160.4 39.6,166.6" fill="#35601f" />
<polygon points="82.8,159.2 88.6,162.0 88.6,163.2 82.8,160.4" fill="#35601f" />
<polygon points="88.6,162.0 63.5,165.9 63.5,167.1 88.6,163.2" fill="#35601f" />
<polygon points="63.5,165.9 48.5,170.9 48.5,172.1 63.5,167.1" fill="#35601f" />
<polygon points="48.5,170.9 39.6,165.4 39.6,166.6 48.5,172.1" fill="#35601f" />
<polygon points="39.6,165.4 82.8,159.2 88.6,162.0 63.5,165.9 48.5,170.9" fill="#4f8a2f" />
<polygon points="48.5,170.9 63.5,165.9 88.6,162.0 95.7,165.4 80.3,169.7 78.6,172.6 61.0,179.6" fill="#d4b482" />
<polygon points="48.5,172.5 63.5,167.5 88.6,163.6 95.7,167.0 80.3,171.3 78.6,174.2 61.0,181.2" fill="#d4b482" />
<polygon points="48.5,170.9 63.5,165.9 63.5,167.5 48.5,172.5" fill="#d4b482" />
<polygon points="63.5,165.9 88.6,162.0 88.6,163.6 63.5,167.5" fill="#d4b482" />
<polygon points="88.6,162.0 95.7,165.4 95.7,167.0 88.6,163.6" fill="#d4b482" />
<polygon points="95.7,165.4 80.3,169.7 80.3,171.3 95.7,167.0" fill="#d4b482" />
<polygon points="80.3,169.7 78.6,172.6 78.6,174.2 80.3,171.3" fill="#d4b482" />
<polygon points="78.6,172.6 61.0,179.6 61.0,181.2 78.6,174.2" fill="#d4b482" />
<polygon points="61.0,179.6 48.5,170.9 48.5,172.5 61.0,181.2" fill="#d4b482" />
<polygon points="48.5,170.9 63.5,165.9 88.6,162.0 95.7,165.4 80.3,169.7 78.6,172.6 61.0,179.6" fill="#efd2a3" />
<polygon points="86.5,170.9 99.5,166.7 152.5,197.6 141.8,201.8" fill="#c56f63" />
<polygon points="86.5,172.5 99.5,168.3 152.5,199.2 141.8,203.4" fill="#c56f63" />
<polygon points="86.5,170.9 99.5,166.7 99.5,168.3 86.5,172.5" fill="#c56f63" />
<polygon points="99.5,166.7 152.5,197.6 152.5,199.2 99.5,168.3" fill="#c56f63" />
<polygon points="152.5,197.6 141.8,201.8 141.8,203.4 152.5,199.2" fill="#c56f63" />
<polygon points="141.8,201.8 86.5,170.9 86.5,172.5 141.8,203.4" fill="#c56f63" />
<polygon points="86.5,170.9 99.5,166.7 152.5,197.6 141.8,201.8" fill="#de887b" />
<polygon points="142.5,201.7 152.5,198.2 237.8,238.9 218.6,246.4" fill="#c56f63" />
<polygon points="142.5,203.3 152.5,199.8 237.8,240.5 218.6,248.0" fill="#c56f63" />
<polygon points="142.5,201.7 152.5,198.2 152.5,199.8 142.5,203.3" fill="#c56f63" />
<polygon points="152.5,198.2 237.8,238.9 237.8,240.5 152.5,199.8" fill="#c56f63" />
<polygon points="237.8,238.9 218.6,246.4 218.6,248.0 237.8,240.5" fill="#c56f63" />
<polygon points="218.6,246.4 142.5,201.7 142.5,203.3 218.6,248.0" fill="#c56f63" />
<polygon points="142.5,201.7 152.5,198.2 237.8,238.9 218.6,246.4" fill="#de887b" />
<polygon points="66.4,181.8 80.3,177.6 110.7,194.3 105.7,197.2 99.8,193.8 93.6,197.7" fill="#c56f63" />
<polygon points="66.4,183.2 80.3,179.0 110.7,195.7 105.7,198.6 99.8,195.2 93.6,199.1" fill="#c56f63" />
<polygon points="66.4,181.8 80.3,177.6 80.3,179.0 66.4,183.2" fill="#c56f63" />
<polygon points="80.3,177.6 110.7,194.3 110.7,195.7 80.3,179.0" fill="#c56f63" />
<polygon points="110.7,194.3 105.7,197.2 105.7,198.6 110.7,195.7" fill="#c56f63" />
<polygon points="105.7,197.2 99.8,193.8 99.8,195.2 105.7,198.6" fill="#c56f63" />
<polygon points="99.8,193.8 93.6,197.7 93.6,199.1 99.8,195.2" fill="#c56f63" />
<polygon points="93.6,197.7 66.4,181.8 66.4,183.2 93.6,199.1" fill="#c56f63" />
<polygon points="66.4,181.8 80.3,177.6 110.7,194.3 105.7,197.2 99.8,193.8 93.6,197.7" fill="#de887b" />
<polygon points="99.2,201.8 113.7,196.5 125.1,203.2 116.6,206.5 119.1,208.5 115.4,211.3" fill="#c56f63" />
<polygon points="99.2,203.2 113.7,197.9 125.1,204.6 116.6,207.9 119.1,209.9 115.4,212.7" fill="#c56f63" />
<polygon points="99.2,201.8 113.7,196.5 113.7,197.9 99.2,203.2" fill="#c56f63" />
<polygon points="113.7,196.5 125.1,203.2 125.1,204.6 113.7,197.9" fill="#c56f63" />
<polygon points="125.1,203.2 116.6,206.5 116.6,207.9 125.1,204.6" fill="#c56f63" />
<polygon points="116.6,206.5 119.1,208.5 119.1,209.9 116.6,207.9" fill="#c56f63" />
<polygon points="119.1,208.5 115.4,211.3 115.4,212.7 119.1,209.9" fill="#c56f63" />
<polygon points="115.4,211.3 99.2,201.8 99.2,203.2 115.4,212.7" fill="#c56f63" />
<polygon points="99.2,201.8 113.7,196.5 125.1,203.2 116.6,206.5 119.1,208.5 115.4,211.3" fill="#de887b" />
<polygon points="499.8,83.7 533.6,80.0 534.4,85.1 529.4,85.9 526.9,82.6 511.8,84.2 510.2,87.6 504.3,87.6" fill="#c56f63" />
<polygon points="499.8,84.7 533.6,81.0 534.4,86.1 529.4,86.9 526.9,83.6 511.8,85.2 510.2,88.6 504.3,88.6" fill="#c56f63" />
<polygon points="499.8,83.7 533.6,80.0 533.6,81.0 499.8,84.7" fill="#c56f63" />
<polygon points="533.6,80.0 534.4,85.1 534.4,86.1 533.6,81.0" fill="#c56f63" />
<polygon points="534.4,85.1 529.4,85.9 529.4,86.9 534.4,86.1" fill="#c56f63" />
<polygon points="529.4,85.9 526.9,82.6 526.9,83.6 529.4,86.9" fill="#c56f63" />
<polygon points="526.9,82.6 511.8,84.2 511.8,85.2 526.9,83.6" fill="#c56f63" />
<polygon points="511.8,84.2 510.2,87.6 510.2,88.6 511.8,85.2" fill="#c56f63" />
<polygon points="510.2,87.6 504.3,87.6 504.3,88.6 510.2,88.6" fill="#c56f63" />
<polygon points="504.3,87.6 499.8,83.7 499.8,84.7 504.3,88.6" fill="#c56f63" />
<polygon points="499.8,83.7 533.6,80.0 534.4,85.1 529.4,85.9 526.9,82.6 511.8,84.2 510.2,87.6 504.3,87.6" fill="#de887b" />
<polygon points="481.0,85.4 489.5,84.6 489.8,87.0 481.3,87.8" fill="#f3f3ea" />
<polygon points="510.5,90.4 537.8,87.6 548.3,105.1 530.2,108.8" fill="#d9a550" />
<polygon points="510.5,91.8 537.8,89.0 548.3,106.5 530.2,110.2" fill="#d9a550" />
<polygon points="510.5,90.4 537.8,87.6 537.8,89.0 510.5,91.8" fill="#d9a550" />
<polygon points="537.8,87.6 548.3,105.1 548.3,106.5 537.8,89.0" fill="#d9a550" />
<polygon points="548.3,105.1 530.2,108.8 530.2,110.2 548.3,106.5" fill="#d9a550" />
<polygon points="530.2,108.8 510.5,90.4 510.5,91.8 530.2,110.2" fill="#d9a550" />
<polygon points="510.5,90.4 537.8,87.6 548.3,105.1 530.2,108.8" fill="#edbf6e" />
<polygon points="545.0,124.4 564.5,122.7 581.2,142.8 561.2,145.3" fill="#d9a550" />
<polygon points="545.0,125.8 564.5,124.1 581.2,144.2 561.2,146.7" fill="#d9a550" />
<polygon points="545.0,124.4 564.5,122.7 564.5,124.1 545.0,125.8" fill="#d9a550" />
<polygon points="564.5,122.7 581.2,142.8 581.2,144.2 564.5,124.1" fill="#d9a550" />
<polygon points="581.2,142.8 561.2,145.3 561.2,146.7 581.2,144.2" fill="#d9a550" />
<polygon points="561.2,145.3 545.0,124.4 545.0,125.8 561.2,146.7" fill="#d9a550" />
<polygon points="545.0,124.4 564.5,122.7 581.2,142.8 561.2,145.3" fill="#edbf6e" />
<path d="M564.3,147.6 L587.7,144.7 Q597,152 610.3,159.3 Q630,168 657.1,176.8 Q675,181 693,183.5 L689.7,194.4 Q663,191.5 630.3,193.5 Q605,196.5 585.2,201 L563.4,207 L543,196.9 Q552,190 556.5,186 Q563,180 567,171 Q571.5,160 567.6,154.2 Z" fill="#d9a550" transform="translate(0,1.6)"/>
<path d="M564.3,147.6 L587.7,144.7 Q597,152 610.3,159.3 Q630,168 657.1,176.8 Q675,181 693,183.5 L689.7,194.4 Q663,191.5 630.3,193.5 Q605,196.5 585.2,201 L563.4,207 L543,196.9 Q552,190 556.5,186 Q563,180 567,171 Q571.5,160 567.6,154.2 Z" fill="#edbf6e" />
<polygon points="513.7,209.7 543.0,196.9 563.0,206.6 532.1,218.4" fill="#d4b482" />
<polygon points="513.7,210.9 543.0,198.1 563.0,207.8 532.1,219.6" fill="#d4b482" />
<polygon points="513.7,209.7 543.0,196.9 543.0,198.1 513.7,210.9" fill="#d4b482" />
<polygon points="543.0,196.9 563.0,206.6 563.0,207.8 543.0,198.1" fill="#d4b482" />
<polygon points="563.0,206.6 532.1,218.4 532.1,219.6 563.0,207.8" fill="#d4b482" />
<polygon points="532.1,218.4 513.7,209.7 513.7,210.9 532.1,219.6" fill="#d4b482" />
<polygon points="513.7,209.7 543.0,196.9 563.0,206.6 532.1,218.4" fill="#efd2a3" />
<polygon points="543.0,196.9 563.0,206.6 562.2,207.3 542.2,197.5" fill="#b08a48" />
<polygon points="505.7,213.4 513.7,209.7 532.1,218.4 527.1,222.1" fill="#c56f63" />
<polygon points="505.7,214.6 513.7,210.9 532.1,219.6 527.1,223.3" fill="#c56f63" />
<polygon points="505.7,213.4 513.7,209.7 513.7,210.9 505.7,214.6" fill="#c56f63" />
<polygon points="513.7,209.7 532.1,218.4 532.1,219.6 513.7,210.9" fill="#c56f63" />
<polygon points="532.1,218.4 527.1,222.1 527.1,223.3 532.1,219.6" fill="#c56f63" />
<polygon points="527.1,222.1 505.7,213.4 505.7,214.6 527.1,223.3" fill="#c56f63" />
<polygon points="505.7,213.4 513.7,209.7 532.1,218.4 527.1,222.1" fill="#e48b7c" />
<polygon points="699.7,185.1 760.3,191.8 758.6,202.5 698.4,196.0" fill="#d9a550" />
<polygon points="699.7,186.7 760.3,193.4 758.6,204.1 698.4,197.6" fill="#d9a550" />
<polygon points="699.7,185.1 760.3,191.8 760.3,193.4 699.7,186.7" fill="#d9a550" />
<polygon points="760.3,191.8 758.6,202.5 758.6,204.1 760.3,193.4" fill="#d9a550" />
<polygon points="758.6,202.5 698.4,196.0 698.4,197.6 758.6,204.1" fill="#d9a550" />
<polygon points="698.4,196.0 699.7,185.1 699.7,186.7 698.4,197.6" fill="#d9a550" />
<polygon points="699.7,185.1 760.3,191.8 758.6,202.5 698.4,196.0" fill="#edbf6e" />
<polygon points="816.3,198.5 881.0,204.3 880.7,219.6 815.4,209.4" fill="#d9a550" />
<polygon points="816.3,200.3 881.0,206.1 880.7,221.4 815.4,211.2" fill="#d9a550" />
<polygon points="816.3,198.5 881.0,204.3 881.0,206.1 816.3,200.3" fill="#d9a550" />
<polygon points="881.0,204.3 880.7,219.6 880.7,221.4 881.0,206.1" fill="#d9a550" />
<polygon points="880.7,219.6 815.4,209.4 815.4,211.2 880.7,221.4" fill="#d9a550" />
<polygon points="815.4,209.4 816.3,198.5 816.3,200.3 815.4,211.2" fill="#d9a550" />
<polygon points="816.3,198.5 881.0,204.3 880.7,219.6 815.4,209.4" fill="#edbf6e" />
<polygon points="897.2,206.0 914.8,206.8 914.5,225.0 896.9,221.9 897.2,218.5 905.3,219.3 905.3,210.5 897.2,209.8" fill="#c56f63" />
<polygon points="897.2,207.4 914.8,208.2 914.5,226.4 896.9,223.3 897.2,219.9 905.3,220.7 905.3,211.9 897.2,211.2" fill="#c56f63" />
<polygon points="897.2,206.0 914.8,206.8 914.8,208.2 897.2,207.4" fill="#c56f63" />
<polygon points="914.8,206.8 914.5,225.0 914.5,226.4 914.8,208.2" fill="#c56f63" />
<polygon points="914.5,225.0 896.9,221.9 896.9,223.3 914.5,226.4" fill="#c56f63" />
<polygon points="896.9,221.9 897.2,218.5 897.2,219.9 896.9,223.3" fill="#c56f63" />
<polygon points="897.2,218.5 905.3,219.3 905.3,220.7 897.2,219.9" fill="#c56f63" />
<polygon points="905.3,219.3 905.3,210.5 905.3,211.9 905.3,220.7" fill="#c56f63" />
<polygon points="905.3,210.5 897.2,209.8 897.2,211.2 905.3,211.9" fill="#c56f63" />
<polygon points="897.2,209.8 897.2,206.0 897.2,207.4 897.2,211.2" fill="#c56f63" />
<polygon points="897.2,206.0 914.8,206.8 914.5,225.0 896.9,221.9 897.2,218.5 905.3,219.3 905.3,210.5 897.2,209.8" fill="#de887b" />
<polygon points="425.4,360.9 447.7,353.4 466.9,371.8 491.6,386.0 480.3,393.2" fill="#cfc57a" />
<polygon points="425.4,362.5 447.7,355.0 466.9,373.4 491.6,387.6 480.3,394.8" fill="#cfc57a" />
<polygon points="425.4,360.9 447.7,353.4 447.7,355.0 425.4,362.5" fill="#cfc57a" />
<polygon points="447.7,353.4 466.9,371.8 466.9,373.4 447.7,355.0" fill="#cfc57a" />
<polygon points="466.9,371.8 491.6,386.0 491.6,387.6 466.9,373.4" fill="#cfc57a" />
<polygon points="491.6,386.0 480.3,393.2 480.3,394.8 491.6,387.6" fill="#cfc57a" />
<polygon points="480.3,393.2 425.4,360.9 425.4,362.5 480.3,394.8" fill="#cfc57a" />
<polygon points="425.4,360.9 447.7,353.4 466.9,371.8 491.6,386.0 480.3,393.2" fill="#ece39c" />
<polygon points="481.9,392.6 494.5,386.8 575.2,430.9 562.6,439.0" fill="#c56f63" />
<polygon points="481.9,395.7 494.5,389.9 575.2,434.0 562.6,442.1" fill="#c56f63" />
<polygon points="481.9,392.6 494.5,386.8 494.5,389.9 481.9,395.7" fill="#c56f63" />
<polygon points="494.5,386.8 575.2,430.9 575.2,434.0 494.5,389.9" fill="#c56f63" />
<polygon points="575.2,430.9 562.6,439.0 562.6,442.1 575.2,434.0" fill="#c56f63" />
<polygon points="562.6,439.0 481.9,392.6 481.9,395.7 562.6,442.1" fill="#c56f63" />
<polygon points="481.9,392.6 494.5,386.8 575.2,430.9 562.6,439.0" fill="#de887b" />
<polygon points="563.5,439.0 576.9,432.6 695.3,498.5 681.9,507.4" fill="#c56f63" />
<polygon points="563.5,442.1 576.9,435.7 695.3,501.6 681.9,510.5" fill="#c56f63" />
<polygon points="563.5,439.0 576.9,432.6 576.9,435.7 563.5,442.1" fill="#c56f63" />
<polygon points="576.9,432.6 695.3,498.5 695.3,501.6 576.9,435.7" fill="#c56f63" />
<polygon points="695.3,498.5 681.9,507.4 681.9,510.5 695.3,501.6" fill="#c56f63" />
<polygon points="681.9,507.4 563.5,439.0 563.5,442.1 681.9,510.5" fill="#c56f63" />
<polygon points="563.5,439.0 576.9,432.6 695.3,498.5 681.9,507.4" fill="#de887b" />
<polygon points="562.4,438.8 575.4,431.2 576.4,431.9 563.4,439.6" fill="#3a2a26" />
<polygon points="534.2,457.7 540.0,454.3 546.8,457.7 558.5,451.5 581.0,466.0 565.2,476.0" fill="#c56f63" />
<polygon points="534.2,459.5 540.0,456.1 546.8,459.5 558.5,453.3 581.0,467.8 565.2,477.8" fill="#c56f63" />
<polygon points="534.2,457.7 540.0,454.3 540.0,456.1 534.2,459.5" fill="#c56f63" />
<polygon points="540.0,454.3 546.8,457.7 546.8,459.5 540.0,456.1" fill="#c56f63" />
<polygon points="546.8,457.7 558.5,451.5 558.5,453.3 546.8,459.5" fill="#c56f63" />
<polygon points="558.5,451.5 581.0,466.0 581.0,467.8 558.5,453.3" fill="#c56f63" />
<polygon points="581.0,466.0 565.2,476.0 565.2,477.8 581.0,467.8" fill="#c56f63" />
<polygon points="565.2,476.0 534.2,457.7 534.2,459.5 565.2,477.8" fill="#c56f63" />
<polygon points="534.2,457.7 540.0,454.3 546.8,457.7 558.5,451.5 581.0,466.0 565.2,476.0" fill="#de887b" />
<polygon points="580.2,473.6 588.6,468.2 656.0,507.7 640.1,520.2 581.9,485.3 588.6,478.6" fill="#c56f63" />
<polygon points="580.2,475.4 588.6,470.0 656.0,509.5 640.1,522.0 581.9,487.1 588.6,480.4" fill="#c56f63" />
<polygon points="580.2,473.6 588.6,468.2 588.6,470.0 580.2,475.4" fill="#c56f63" />
<polygon points="588.6,468.2 656.0,507.7 656.0,509.5 588.6,470.0" fill="#c56f63" />
<polygon points="656.0,507.7 640.1,520.2 640.1,522.0 656.0,509.5" fill="#c56f63" />
<polygon points="640.1,520.2 581.9,485.3 581.9,487.1 640.1,522.0" fill="#c56f63" />
<polygon points="581.9,485.3 588.6,478.6 588.6,480.4 581.9,487.1" fill="#c56f63" />
<polygon points="588.6,478.6 580.2,473.6 580.2,475.4 588.6,480.4" fill="#c56f63" />
<polygon points="580.2,473.6 588.6,468.2 656.0,507.7 640.1,520.2 581.9,485.3 588.6,478.6" fill="#de887b" />
<polygon points="656.0,528.5 676.9,512.6 682.7,514.7 702.8,500.9 716.2,510.9 708.6,531.0 703.6,536.8 690.2,548.5" fill="#d4b482" />
<polygon points="656.0,530.1 676.9,514.2 682.7,516.3 702.8,502.5 716.2,512.5 708.6,532.6 703.6,538.4 690.2,550.1" fill="#d4b482" />
<polygon points="656.0,528.5 676.9,512.6 676.9,514.2 656.0,530.1" fill="#d4b482" />
<polygon points="676.9,512.6 682.7,514.7 682.7,516.3 676.9,514.2" fill="#d4b482" />
<polygon points="682.7,514.7 702.8,500.9 702.8,502.5 682.7,516.3" fill="#d4b482" />
<polygon points="702.8,500.9 716.2,510.9 716.2,512.5 702.8,502.5" fill="#d4b482" />
<polygon points="716.2,510.9 708.6,531.0 708.6,532.6 716.2,512.5" fill="#d4b482" />
<polygon points="708.6,531.0 703.6,536.8 703.6,538.4 708.6,532.6" fill="#d4b482" />
<polygon points="703.6,536.8 690.2,548.5 690.2,550.1 703.6,538.4" fill="#d4b482" />
<polygon points="690.2,548.5 656.0,528.5 656.0,530.1 690.2,550.1" fill="#d4b482" />
<polygon points="656.0,528.5 676.9,512.6 682.7,514.7 702.8,500.9 716.2,510.9 708.6,531.0 703.6,536.8 690.2,548.5" fill="#efd2a3" />
<polygon points="718.7,510.9 733.7,520.1 715.3,563.6 691.9,548.5 704.6,537.4 709.8,531.4" fill="#35601f" />
<polygon points="718.7,512.7 733.7,521.9 715.3,565.4 691.9,550.3 704.6,539.2 709.8,533.2" fill="#35601f" />
<polygon points="718.7,510.9 733.7,520.1 733.7,521.9 718.7,512.7" fill="#35601f" />
<polygon points="733.7,520.1 715.3,563.6 715.3,565.4 733.7,521.9" fill="#35601f" />
<polygon points="715.3,563.6 691.9,548.5 691.9,550.3 715.3,565.4" fill="#35601f" />
<polygon points="691.9,548.5 704.6,537.4 704.6,539.2 691.9,550.3" fill="#35601f" />
<polygon points="704.6,537.4 709.8,531.4 709.8,533.2 704.6,539.2" fill="#35601f" />
<polygon points="709.8,531.4 718.7,510.9 718.7,512.7 709.8,533.2" fill="#35601f" />
<polygon points="718.7,510.9 733.7,520.1 715.3,563.6 691.9,548.5 704.6,537.4 709.8,531.4" fill="#4f8a2f" />
<path d="M717.2,510.7 L718.7,511.1 L709.8,531.5 L704.6,537.5 L691.9,548.8 L690.9,548.3 L703.7,536.8 L708.8,531.0 Z" fill="#33382a" />
<polyline points="256.1,160.0 256.1,246.0" fill="none" stroke="#c93943" stroke-width="1.00"/>
<polyline points="266.6,193.0 266.6,238.0" fill="none" stroke="#c93943" stroke-width="1.00"/>
<polyline points="360.7,224.0 360.7,259.0" fill="none" stroke="#c93943" stroke-width="1.00"/>
<polyline points="147.0,258.3 234.0,258.3" fill="none" stroke="#c93943" stroke-width="1.00"/>
<polyline points="524.6,218.7 627.5,218.7" fill="none" stroke="#c93943" stroke-width="1.00"/>
<polyline points="501.5,226.0 501.5,239.4 615.2,239.4" fill="none" stroke="#c93943" stroke-width="1.00"/>
<polyline points="409.0,274.3 508.4,274.3" fill="none" stroke="#c93943" stroke-width="1.00"/>
<polyline points="376.2,330.0 376.2,302.1 569.9,302.1" fill="none" stroke="#c93943" stroke-width="1.00"/>
<polyline points="446.0,331.4 543.8,331.4" fill="none" stroke="#c93943" stroke-width="1.00"/>
<polyline points="409.3,346.4 537.2,346.4" fill="none" stroke="#c93943" stroke-width="1.00"/>
<polyline points="446.0,357.0 544.0,357.0" fill="none" stroke="#c93943" stroke-width="1.00"/>
<polyline points="419.7,371.5 419.7,407.6" fill="none" stroke="#c93943" stroke-width="1.00"/>
<g transform="translate(242.50,229.00) scale(0.7571)"> <rect x="0" y="0" width="14" height="14" rx="1.8" fill="#113d9b"/>
 <rect x="1.7" y="1.6" width="10.6" height="10.8" rx="0.3" fill="#ffffff"/>
 <rect x="5.0" y="2.3" width="4.0" height="9.4" fill="#113d9b"/>
 <rect x="3.25" y="2.3" width="0.5" height="9.4" fill="#8fa3d3"/>
 <rect x="10.25" y="2.3" width="0.5" height="9.4" fill="#8fa3d3"/>
 <circle cx="7" cy="4.3" r="0.9" fill="#fff"/>
 <path d="M6.1,5.6 h1.8 v3.2 h-0.4 v2.7 h-1.0 v-2.7 h-0.4 z" fill="#fff"/>
</g>
<g transform="translate(255.50,228.50) scale(0.7571)"> <rect x="0" y="0" width="14" height="14" rx="1.8" fill="#113d9b"/>
 <path d="M1.9,10.7 h2.7 l5.0,-5.6 h2.6" fill="none" stroke="#fff" stroke-width="2.5" stroke-linecap="round" stroke-linejoin="round"/>
 <path d="M2.1,10.7 h2.6 l5.0,-5.6 h2.3" fill="none" stroke="#113d9b" stroke-width="0.8" stroke-linecap="round" stroke-linejoin="round"/>
 <circle cx="6.0" cy="2.9" r="0.95" fill="#fff"/>
 <path d="M5.45,4.2 h1.25 v2.7 l-1.25,1.4 z" fill="#fff"/>
</g>
<g transform="translate(345.00,262.30) scale(0.7714)"> <rect x="0" y="0" width="14" height="14" rx="1.8" fill="#113d9b"/>
 <rect x="1.7" y="1.6" width="10.6" height="10.8" rx="0.3" fill="#ffffff"/>
 <rect x="5.0" y="2.3" width="4.0" height="9.4" fill="#113d9b"/>
 <rect x="3.25" y="2.3" width="0.5" height="9.4" fill="#8fa3d3"/>
 <rect x="10.25" y="2.3" width="0.5" height="9.4" fill="#8fa3d3"/>
 <circle cx="7" cy="4.3" r="0.9" fill="#fff"/>
 <path d="M6.1,5.6 h1.8 v3.2 h-0.4 v2.7 h-1.0 v-2.7 h-0.4 z" fill="#fff"/>
</g>
<g transform="translate(405.50,261.10) scale(0.7714)"> <rect x="0" y="0" width="14" height="14" rx="1.8" fill="#113d9b"/>
 <path d="M1.9,10.7 h2.7 l5.0,-5.6 h2.6" fill="none" stroke="#fff" stroke-width="2.5" stroke-linecap="round" stroke-linejoin="round"/>
 <path d="M2.1,10.7 h2.6 l5.0,-5.6 h2.3" fill="none" stroke="#113d9b" stroke-width="0.8" stroke-linecap="round" stroke-linejoin="round"/>
 <circle cx="6.0" cy="2.9" r="0.95" fill="#fff"/>
 <path d="M5.45,4.2 h1.25 v2.7 l-1.25,1.4 z" fill="#fff"/>
</g>
<g transform="translate(364.50,318.90) scale(0.7571)"> <rect x="0" y="0" width="14" height="14" rx="1.8" fill="#113d9b"/>
 <rect x="1.7" y="1.6" width="10.6" height="10.8" rx="0.3" fill="#ffffff"/>
 <rect x="5.0" y="2.3" width="4.0" height="9.4" fill="#113d9b"/>
 <rect x="3.25" y="2.3" width="0.5" height="9.4" fill="#8fa3d3"/>
 <rect x="10.25" y="2.3" width="0.5" height="9.4" fill="#8fa3d3"/>
 <circle cx="7" cy="4.3" r="0.9" fill="#fff"/>
 <path d="M6.1,5.6 h1.8 v3.2 h-0.4 v2.7 h-1.0 v-2.7 h-0.4 z" fill="#fff"/>
</g>
<g transform="translate(378.00,318.40) scale(0.7714)"> <rect x="0" y="0" width="14" height="14" rx="1.8" fill="#113d9b"/>
 <path d="M1.9,10.7 h2.7 l5.0,-5.6 h2.6" fill="none" stroke="#fff" stroke-width="2.5" stroke-linecap="round" stroke-linejoin="round"/>
 <path d="M2.1,10.7 h2.6 l5.0,-5.6 h2.3" fill="none" stroke="#113d9b" stroke-width="0.8" stroke-linecap="round" stroke-linejoin="round"/>
 <circle cx="6.0" cy="2.9" r="0.95" fill="#fff"/>
 <path d="M5.45,4.2 h1.25 v2.7 l-1.25,1.4 z" fill="#fff"/>
</g>
<g transform="translate(914.40,524.10) scale(1.0286)"> <rect x="0" y="0" width="14" height="14" rx="1.8" fill="#113d9b"/>
 <rect x="1.7" y="1.6" width="10.6" height="10.8" rx="0.3" fill="#ffffff"/>
 <rect x="5.0" y="2.3" width="4.0" height="9.4" fill="#113d9b"/>
 <rect x="3.25" y="2.3" width="0.5" height="9.4" fill="#8fa3d3"/>
 <rect x="10.25" y="2.3" width="0.5" height="9.4" fill="#8fa3d3"/>
 <circle cx="7" cy="4.3" r="0.9" fill="#fff"/>
 <path d="M6.1,5.6 h1.8 v3.2 h-0.4 v2.7 h-1.0 v-2.7 h-0.4 z" fill="#fff"/>
</g>
<g transform="translate(914.40,545.80) scale(1.0286)"> <rect x="0" y="0" width="14" height="14" rx="1.8" fill="#113d9b"/>
 <path d="M1.9,10.7 h2.7 l5.0,-5.6 h2.6" fill="none" stroke="#fff" stroke-width="2.5" stroke-linecap="round" stroke-linejoin="round"/>
 <path d="M2.1,10.7 h2.6 l5.0,-5.6 h2.3" fill="none" stroke="#113d9b" stroke-width="0.8" stroke-linecap="round" stroke-linejoin="round"/>
 <circle cx="6.0" cy="2.9" r="0.95" fill="#fff"/>
 <path d="M5.45,4.2 h1.25 v2.7 l-1.25,1.4 z" fill="#fff"/>
</g>
<g transform="translate(914.40,567.90) scale(1.0286)"> <rect x="0" y="0" width="14" height="14" rx="1.8" fill="#113d9b"/>
 <path d="M1.9,11.9 L12.3,8.0" fill="none" stroke="#fff" stroke-width="1.25" stroke-linecap="round"/>
 <path d="M3.2,10.7 h2.6 v-1.0 h2.6 v-1.0 h2.6" fill="none" stroke="#fff" stroke-width="0.65"/>
 <circle cx="5.5" cy="4.4" r="0.8" fill="#fff"/>
 <path d="M5.05,5.4 h0.95 v4.3 h-0.95 z M7.3,4.6 h0.95 v4.2 h-0.95 z" fill="#fff"/>
 <circle cx="7.8" cy="3.7" r="0.75" fill="#fff"/>
</g>
<circle cx="242.1" cy="257.7" r="3.1" fill="#cf0a1c"/>
<circle cx="256.0" cy="251.7" r="3.1" fill="#cf0a1c"/>
<circle cx="266.6" cy="243.3" r="3.1" fill="#cf0a1c"/>
<circle cx="361.4" cy="266.5" r="3.1" fill="#cf0a1c"/>
<circle cx="401.4" cy="272.7" r="3.1" fill="#cf0a1c"/>
<circle cx="376.2" cy="334.7" r="3.1" fill="#cf0a1c"/>
<circle cx="402.3" cy="346.4" r="3.1" fill="#cf0a1c"/>
<circle cx="437.3" cy="331.9" r="3.1" fill="#cf0a1c"/>
<circle cx="434.1" cy="356.6" r="3.1" fill="#cf0a1c"/>
<circle cx="419.7" cy="364.7" r="3.1" fill="#cf0a1c"/>
<circle cx="522.1" cy="215.9" r="3.1" fill="#cf0a1c"/>
<circle cx="501.5" cy="223.8" r="3.1" fill="#cf0a1c"/>
<g transform="translate(637,218.4)">
 <clipPath id="lg"><circle r="6.5"/></clipPath>
 <g clip-path="url(#lg)">
  <rect x="-7" y="-7" width="14" height="7.6" fill="#d4141f"/>
  <rect x="-7" y="0.6" width="14" height="7" fill="#1c2f8f"/>
  <path d="M-5.6,0.8 Q-3.4,-3.6 1.6,-4.4 Q-0.8,-2.6 -1.2,-0.6 L5.2,-1.6 Q2.6,0.2 -0.4,0.9 Q0.4,3 3.6,4 Q-0.6,5 -2.6,2.2 Q-4,1.4 -5.6,0.8 Z" fill="#fff"/>
 </g>
</g>
</svg>
<div id="badge"><b>F1</b><i>航站楼</i></div>
<div class="lb" style="left:241.9px;top:143.3px;width:211.8px;height:16.8px;"><span>升降电梯手扶电梯及楼梯通往 B1 层行李大厅</span></div>
<div class="lb" style="left:261.5px;top:176.5px;width:134px;height:16.5px;"><span>国内进港航班远机位到达口</span></div>
<div class="lb" style="left:276.5px;top:207.5px;width:181px;height:16.5px;"><span>升降电梯通往 B1 层国内行李提取大厅</span></div>
<div class="lb" style="left:25px;top:249px;width:122px;height:16.5px;"><span>东航国内无行李中转柜台</span></div>
<div class="lb" style="left:627.3px;top:210.2px;width:107.2px;height:16.4px;"><span style="padding-left:15.4px;">东航头等舱休息室</span></div>
<div class="lb" style="left:615px;top:231.6px;width:83px;height:16.4px;"><span>19–24 号登机口</span></div>
<div class="lb" style="left:508.2px;top:266.2px;width:182.4px;height:16.4px;"><span>手扶电梯通往 B1 层国内行李提取大厅</span></div>
<div class="lb" style="left:569.7px;top:293.6px;width:214.8px;height:16.6px;"><span>升降电梯手扶电梯通往 B1 层边检、行李大厅</span></div>
<div class="lb" style="left:543.6px;top:318.6px;width:134.3px;height:16.4px;"><span>国际进港航班远机位到达口</span></div>
<div class="lb" style="left:537px;top:338px;width:111px;height:16.4px;"><span>国际进港海关检查通道</span></div>
<div class="lb" style="left:543.9px;top:355.6px;width:231.6px;height:16.4px;"><span>通过海关、边防、安检通道到达 66、67 号登机口</span></div>
<div class="lb" style="left:356px;top:407.5px;width:90.5px;height:16.5px;"><span>东航国际中转柜台</span></div>
<div class="lg" style="top:524.5px;">直梯</div>
<div class="lg" style="top:546px;">扶梯</div>
<div class="lg" style="top:568px;">楼梯</div>

</div>
</body>
</html>
